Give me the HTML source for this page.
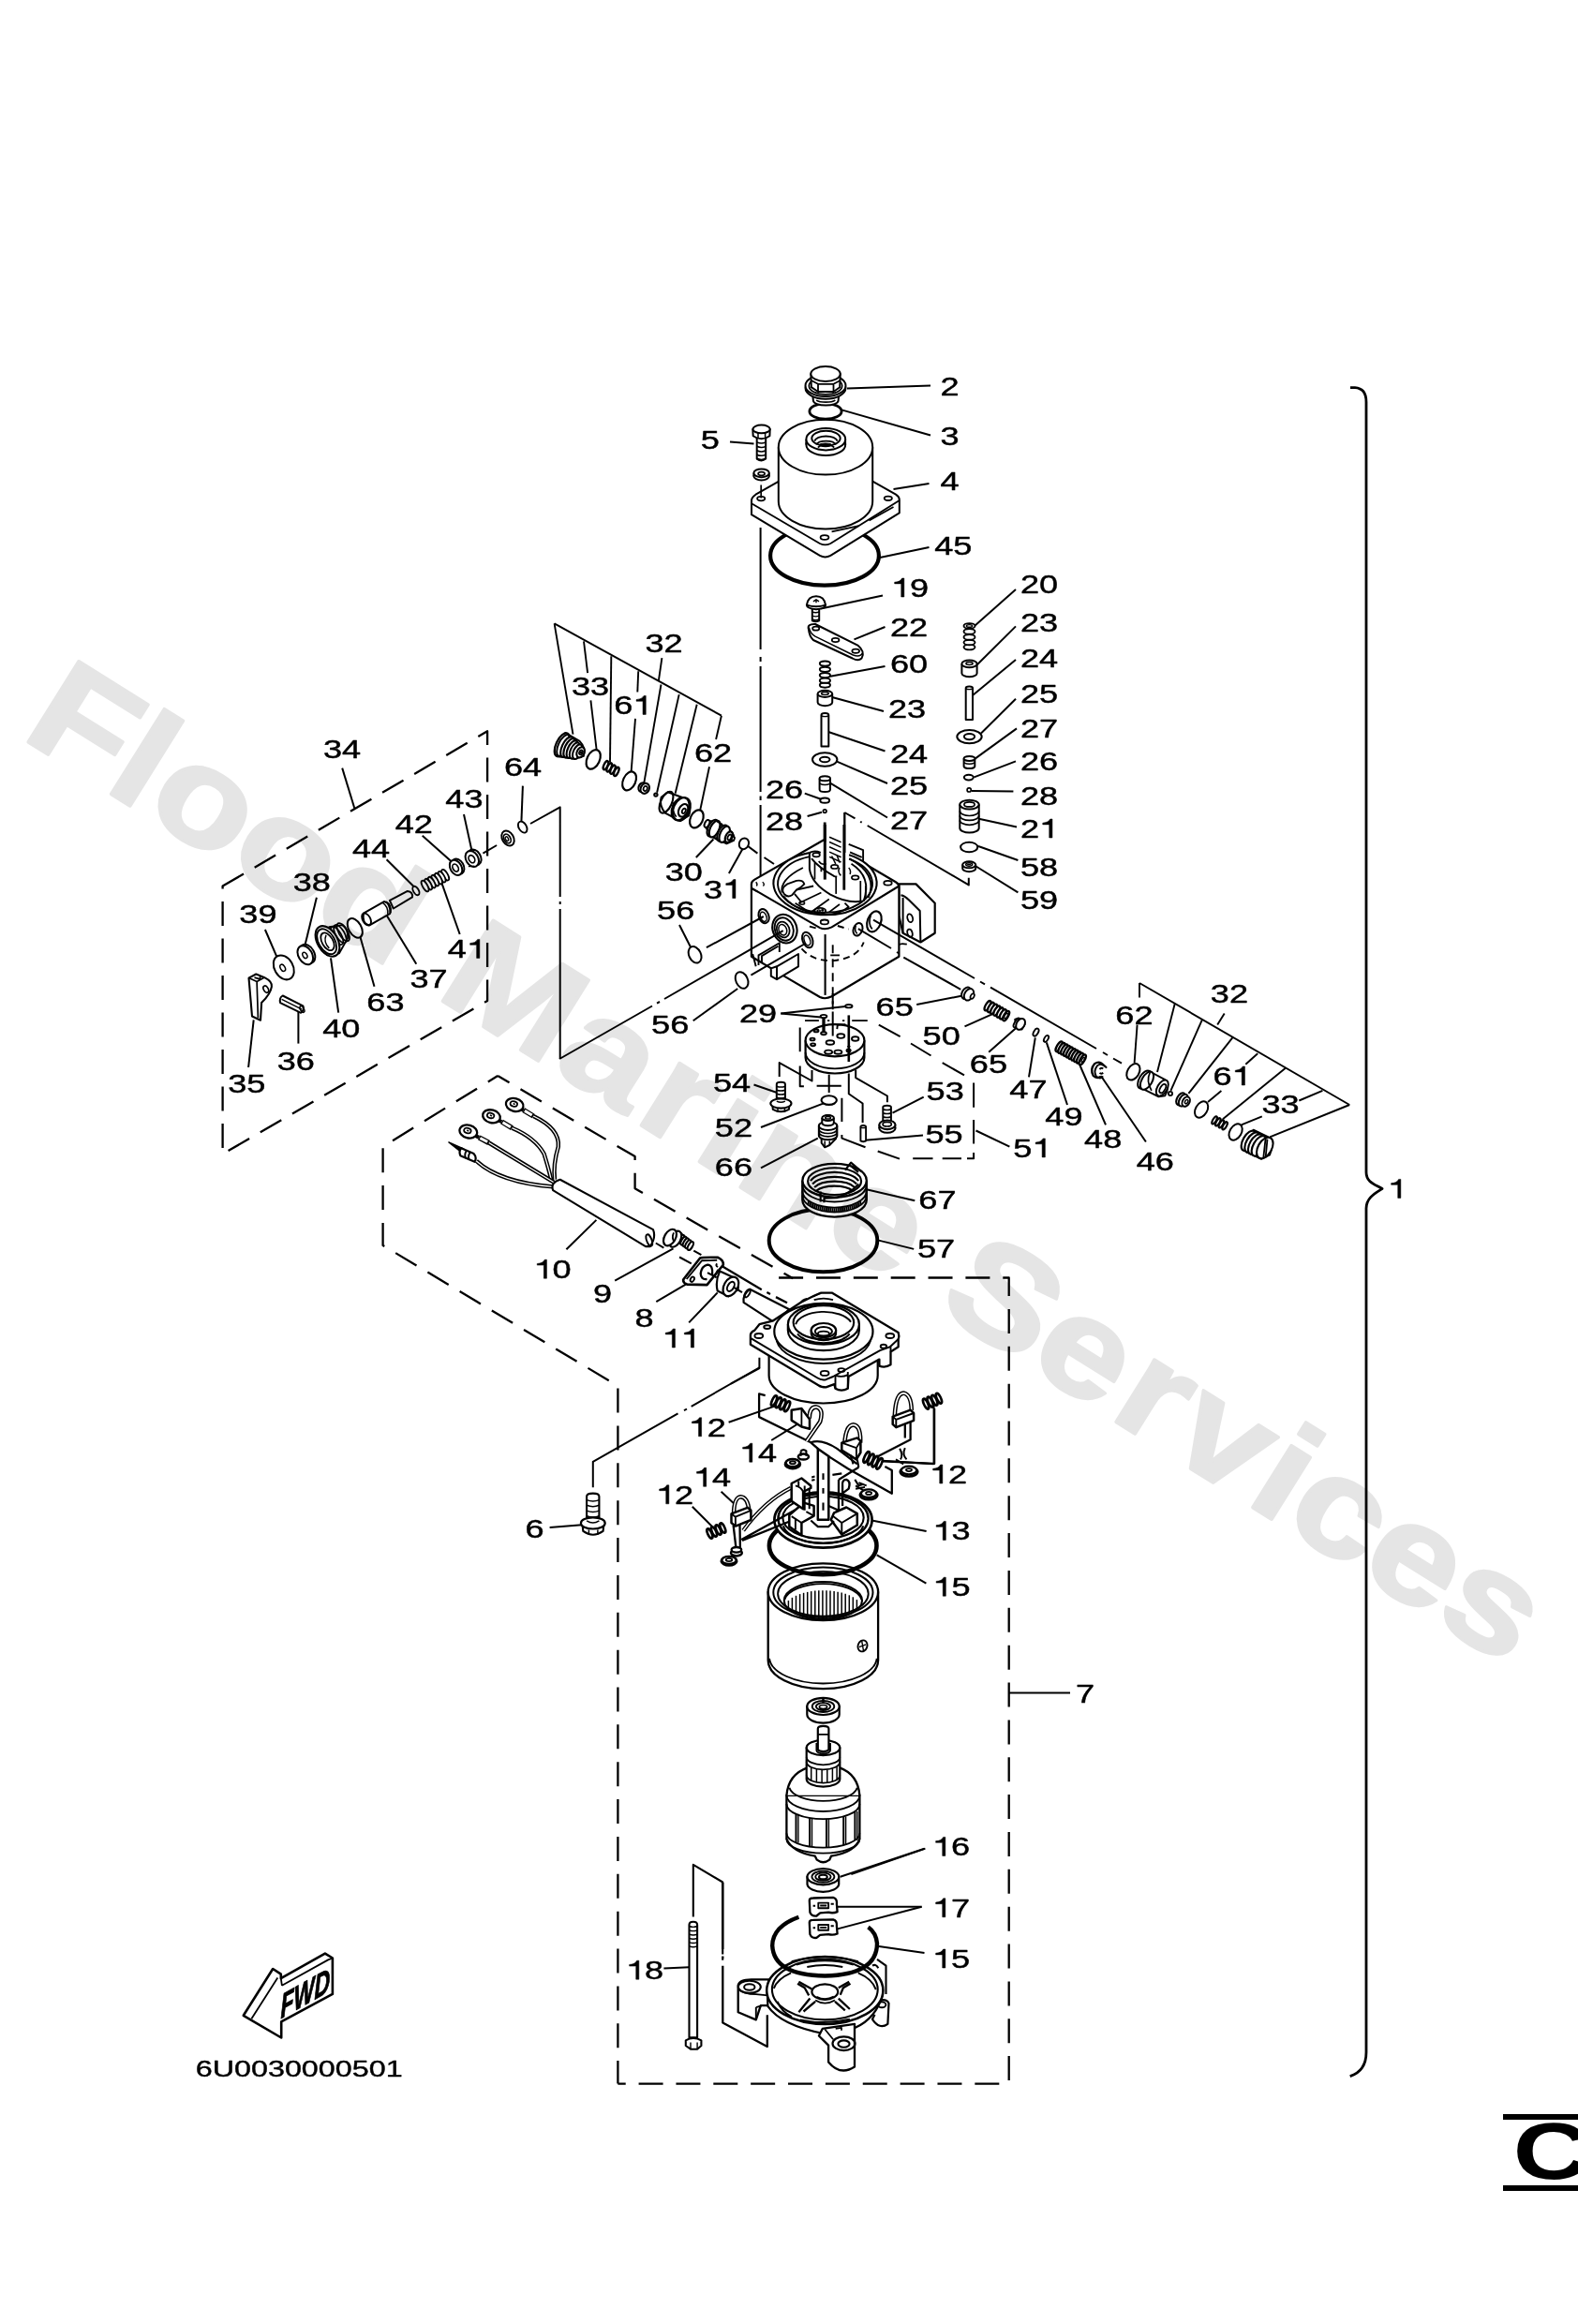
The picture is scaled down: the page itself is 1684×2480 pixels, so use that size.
<!DOCTYPE html><html><head><meta charset="utf-8"><title>Parts diagram</title><style>html,body{margin:0;padding:0;background:#fff}svg{display:block}text{font-family:"Liberation Sans",sans-serif;fill:#000}</style></head><body>
<svg width="1684" height="2480" viewBox="0 0 1684 2480" stroke-linecap="butt" stroke-linejoin="round">
<rect width="1684" height="2480" fill="#fff"/>
<path d="M831.1,1363.5 H1076.7 V2223.6 H659.4" fill="none" stroke="#000" stroke-width="2.3" stroke-dasharray="26 13.86"/>
<path d="M531.2,1148 L408.6,1223.7 V1329 L659.4,1479 V2223.6" fill="none" stroke="#000" stroke-width="2.3" stroke-dasharray="26 13.86" stroke-dashoffset="13.8"/>
<path d="M531.2,1148 L677.6,1234.1 V1268.3 L846.3,1364.2" fill="none" stroke="#000" stroke-width="2.3" stroke-dasharray="26 13.86" stroke-dashoffset="11.7"/>
<path d="M237.6,945.6 L520.1,780.3 V1068 L237.6,1231.5 Z" fill="none" stroke="#000" stroke-width="2.3" stroke-dasharray="26 13.5"/>
<path d="M937.8,1093.6 L960.6,1106.2 M972,1113.5 L993.5,1126.5 M1005.7,1134.2 L1029,1147.3 M1039.1,1155.5 V1181.8 M1039.1,1195 V1220.4 M1039.1,1230 V1236.2 H1032 M1026,1236.2 H1005.7 M995.5,1236.2 H974.2 M960,1236.6 L936.7,1228.5" fill="none" stroke="#000" stroke-width="2"/>
<path d="M1441,413.7 H1446 Q1458,414.5 1458,429 V1251 C1458,1262 1468,1264 1475,1268.5 C1468,1273 1458,1278 1458,1289.5 V2190 Q1458,2210 1440.7,2215.6" fill="none" stroke="#000" stroke-width="2.8"/>
<path d="M1076.7,1806.4 H1142" fill="none" stroke="#000" stroke-width="2"/>
<rect x="1604" y="2256" width="90" height="6" fill="#000"/><rect x="1604" y="2332" width="90" height="6" fill="#000"/>
<text x="0" y="0" font-size="86" font-weight="bold" transform="translate(1614.5,2324.5) scale(1.32,1)">C</text>
<text x="319.2" y="2215.8" font-size="24.2" style="stroke:#000;stroke-width:0.4" textLength="221" lengthAdjust="spacingAndGlyphs" text-anchor="middle">6U0030000501</text>
<path d="M 259.8,2150.8 L 291.2,2101 L 299.8,2106.7 L 299.8,2111.2 L 346.9,2084.6 L 354.9,2089.5 L 354.9,2127.9 L 300.2,2157.4 L 300.2,2174.5 Z" fill="white" stroke="#000" stroke-width="2.6"/>
<path d="M 268.4,2154.2 L 296.3,2110.5 M 299.8,2111.2 L 300.9,2118.8 M 300.9,2118.8 L 350.2,2091.4 L 354.9,2089.5 M 350.2,2091.4" fill="none" stroke="#000" stroke-width="1.8"/>
<text x="0" y="0" font-size="29" font-weight="bold" font-style="italic" style="stroke:#000;stroke-width:0.8" transform="matrix(0.80,-0.45,0,1.25,299.4,2154.2)" >FWD</text>
<path d="M904,414.5 L993,411.6" fill="none" stroke="#000" stroke-width="2"/>
<path d="M899,437.6 L993,464.5" fill="none" stroke="#000" stroke-width="2"/>
<path d="M779,471.5 L804.5,473.4" fill="none" stroke="#000" stroke-width="2"/>
<path d="M953.5,522 L991.5,516" fill="none" stroke="#000" stroke-width="2"/>
<path d="M939,595 L991.5,584" fill="none" stroke="#000" stroke-width="2"/>
<path d="M876,649.4 L942,635.5" fill="none" stroke="#000" stroke-width="2"/>
<path d="M911.5,682.4 L944.5,669" fill="none" stroke="#000" stroke-width="2"/>
<path d="M886,721.7 L944.5,711" fill="none" stroke="#000" stroke-width="2"/>
<path d="M888,744 L943,759" fill="none" stroke="#000" stroke-width="2"/>
<path d="M884,781 L944.5,801.5" fill="none" stroke="#000" stroke-width="2"/>
<path d="M892.5,812.4 L947,836" fill="none" stroke="#000" stroke-width="2"/>
<path d="M886,835.7 L947,872.5" fill="none" stroke="#000" stroke-width="2"/>
<path d="M858.8,846.6 L876,852.7" fill="none" stroke="#000" stroke-width="2"/>
<path d="M861.6,871 L877,866.7" fill="none" stroke="#000" stroke-width="2"/>
<path d="M1038,669.7 L1084,629" fill="none" stroke="#000" stroke-width="2"/>
<path d="M1042.6,709.5 L1084,668.4" fill="none" stroke="#000" stroke-width="2"/>
<path d="M1038,742 L1084,704" fill="none" stroke="#000" stroke-width="2"/>
<path d="M1047,782.5 L1084,745.8" fill="none" stroke="#000" stroke-width="2"/>
<path d="M1039.5,810.4 L1085,777.4" fill="none" stroke="#000" stroke-width="2"/>
<path d="M1039.5,829.4 L1084,812.4" fill="none" stroke="#000" stroke-width="2"/>
<path d="M1037,843.9 L1081.4,844.6" fill="none" stroke="#000" stroke-width="2"/>
<path d="M1044.6,873.8 L1085,882.6" fill="none" stroke="#000" stroke-width="2"/>
<path d="M1044,903 L1086.4,918" fill="none" stroke="#000" stroke-width="2"/>
<path d="M1040.8,924 L1086.4,952.3" fill="none" stroke="#000" stroke-width="2"/>
<path d="M761.4,895.5 L742.8,915" fill="none" stroke="#000" stroke-width="2"/>
<path d="M792.4,906 L777.9,931.9" fill="none" stroke="#000" stroke-width="2"/>
<path d="M365.2,819.6 L378.4,862.7" fill="none" stroke="#000" stroke-width="2"/>
<path d="M557.9,838.6 L556.4,877" fill="none" stroke="#000" stroke-width="2"/>
<path d="M495,869 L503.9,909.6" fill="none" stroke="#000" stroke-width="2"/>
<path d="M450.7,891.8 L483.6,921" fill="none" stroke="#000" stroke-width="2"/>
<path d="M412.6,917.2 L441.8,946.3" fill="none" stroke="#000" stroke-width="2"/>
<path d="M337.9,957.7 L325.2,1009.7" fill="none" stroke="#000" stroke-width="2"/>
<path d="M282.9,992 L296,1022.4" fill="none" stroke="#000" stroke-width="2"/>
<path d="M471,941.2 L490.7,997" fill="none" stroke="#000" stroke-width="2"/>
<path d="M410,972.4 L444.3,1028.7" fill="none" stroke="#000" stroke-width="2"/>
<path d="M382.2,992 L399.5,1052.8" fill="none" stroke="#000" stroke-width="2"/>
<path d="M353,1022.4 L361.2,1080.7" fill="none" stroke="#000" stroke-width="2"/>
<path d="M318.4,1076.9 L318.4,1113.6" fill="none" stroke="#000" stroke-width="2"/>
<path d="M270.7,1088.3 L265.1,1139" fill="none" stroke="#000" stroke-width="2"/>
<path d="M978.2,1072 L1026,1062.8" fill="none" stroke="#000" stroke-width="2"/>
<path d="M1029.5,1095.3 L1060.3,1081.6" fill="none" stroke="#000" stroke-width="2"/>
<path d="M1055.2,1122.7 L1084.3,1097" fill="none" stroke="#000" stroke-width="2"/>
<path d="M1098,1149.4 L1104.8,1107.3" fill="none" stroke="#000" stroke-width="2"/>
<path d="M1139,1179 L1116.8,1112.4" fill="none" stroke="#000" stroke-width="2"/>
<path d="M1180,1200.4 L1149.3,1129.5" fill="none" stroke="#000" stroke-width="2"/>
<path d="M1222.9,1218.5 L1175,1148.3" fill="none" stroke="#000" stroke-width="2"/>
<path d="M985.7,1170.6 L952.5,1187.7" fill="none" stroke="#000" stroke-width="2"/>
<path d="M985,1211.6 L923.4,1216.8" fill="none" stroke="#000" stroke-width="2"/>
<path d="M1041.5,1206.5 L1077.4,1223.6" fill="none" stroke="#000" stroke-width="2"/>
<path d="M833.3,1081.4 L902.2,1074" fill="none" stroke="#000" stroke-width="2"/>
<path d="M833.3,1081.4 L875.9,1085.5" fill="none" stroke="#000" stroke-width="2"/>
<path d="M804.5,1157.5 L829.2,1166" fill="none" stroke="#000" stroke-width="2"/>
<path d="M812,1203 L879,1177.4" fill="none" stroke="#000" stroke-width="2"/>
<path d="M812,1246.3 L872.8,1214.7" fill="none" stroke="#000" stroke-width="2"/>
<path d="M976.3,1281.2 L923.5,1269" fill="none" stroke="#000" stroke-width="2"/>
<path d="M975.2,1332.9 L936.7,1323.4" fill="none" stroke="#000" stroke-width="2"/>
<path d="M725,987 L737.8,1012.2" fill="none" stroke="#000" stroke-width="2"/>
<path d="M739.7,1089.2 L787.2,1055" fill="none" stroke="#000" stroke-width="2"/>
<path d="M636.4,1301.9 L604.4,1333.2" fill="none" stroke="#000" stroke-width="2"/>
<path d="M718.5,1332.3 L656.2,1366.7" fill="none" stroke="#000" stroke-width="2"/>
<path d="M732.2,1370.3 L700.3,1389.2" fill="none" stroke="#000" stroke-width="2"/>
<path d="M765.7,1379.4 L735.2,1411.4" fill="none" stroke="#000" stroke-width="2"/>
<path d="M777.6,1517.7 L826.6,1500.6" fill="none" stroke="#000" stroke-width="2"/>
<path d="M823.2,1537 L850.6,1520" fill="none" stroke="#000" stroke-width="2"/>
<path d="M769.6,1591.8 L783.3,1604.4" fill="none" stroke="#000" stroke-width="2"/>
<path d="M738.8,1607.8 L760.5,1629.5" fill="none" stroke="#000" stroke-width="2"/>
<path d="M941.8,1558.8 L996.6,1562.2" fill="none" stroke="#000" stroke-width="2"/>
<path d="M996.6,1498.3 L996.6,1562.2" fill="none" stroke="#000" stroke-width="2"/>
<path d="M930.4,1622.6 L988.6,1634" fill="none" stroke="#000" stroke-width="2"/>
<path d="M935.7,1659.3 L988.4,1689.7" fill="none" stroke="#000" stroke-width="2"/>
<path d="M908.3,2000 L987.4,1972.6" fill="none" stroke="#000" stroke-width="2"/>
<path d="M586.6,1630 L620.8,1627.3" fill="none" stroke="#000" stroke-width="2"/>
<ellipse cx="880" cy="592.9" rx="57.9" ry="31.7" fill="none" stroke="#000" stroke-width="4.2"/>
<path d="M 802,534 Q 802,530.8 806.5,527.7 L 881,485.2 L 956,527.7 Q 959.8,530.2 959.8,533.4 L 959.8,547.3 L 886.3,592.9 Q 880.6,596.1 874.9,592.9 L 802,549.2 Z" fill="white" stroke="#000" stroke-width="2"/>
<path d="M 802,537.2 L 874.9,580 Q 880.6,582.8 886.3,580 L 959.8,534" fill="none" stroke="#000" stroke-width="1.9"/>
<ellipse cx="812.2" cy="532.1" rx="4.1" ry="2.2" fill="none" stroke="#000" stroke-width="1.8"/>
<ellipse cx="947.8" cy="531.8" rx="4.1" ry="2.2" fill="none" stroke="#000" stroke-width="1.8"/>
<ellipse cx="880" cy="573.5" rx="4.4" ry="2.4" fill="none" stroke="#000" stroke-width="1.8"/>
<path d="M 927.5,555.5 L 953.5,541 M 887.6,567.3 L 916.7,561.2" fill="none" stroke="#000" stroke-width="1.8"/>
<path d="M 830.8,477.2 L 830.8,535 A 50.2,29.4 0 0 0 931.2,535 L 931.2,477.2 Z" fill="white" stroke="none" stroke-width="1.7"/>
<path d="M 830.8,477.2 L 830.8,535 A 50.2,29.4 0 0 0 931.2,535 L 931.2,477.2" fill="none" stroke="#000" stroke-width="2"/>
<ellipse cx="881" cy="477.2" rx="50.2" ry="29.4" fill="white" stroke="#000" stroke-width="2"/>
<ellipse cx="881.3" cy="474.4" rx="20.9" ry="11.7" fill="white" stroke="#000" stroke-width="2"/>
<path d="M 860.3,468.7 L 860.3,474.4 M 902.2,468.7 L 902.2,474.4" fill="none" stroke="#000" stroke-width="1.8"/>
<ellipse cx="881.3" cy="468.7" rx="20.9" ry="11.7" fill="white" stroke="#000" stroke-width="2"/>
<ellipse cx="881.5" cy="467.7" rx="15.2" ry="7.9" fill="none" stroke="#000" stroke-width="2"/>
<path d="M 869.2,470.6 A 12.4,6.1 0 0 1 893.7,470.6 M 871.1,474.4 A 10.8,5.1 0 0 1 892,474.4 M 873,477.6 A 8.9,3.8 0 0 1 890.1,477.6" fill="none" stroke="#000" stroke-width="1.9"/>
<ellipse cx="881" cy="474.8" rx="6.1" ry="1.8" fill="#000" stroke="#000" stroke-width="1.2"/>
<ellipse cx="881" cy="438.9" rx="17.1" ry="8.2" fill="none" stroke="#000" stroke-width="2.8"/>
<path d="M 867.3,421.8 L 867.9,427.5 A 13.3,5.1 0 0 0 894.6,427.5 L 895.2,421.8 Z" fill="white" stroke="#000" stroke-width="2"/>
<path d="M 871.1,427.1 A 11.4,3.8 0 0 0 891.4,427.1" fill="none" stroke="#000" stroke-width="1.7"/>
<ellipse cx="881" cy="414" rx="21.5" ry="11.7" fill="white" stroke="#000" stroke-width="2"/>
<ellipse cx="881" cy="411.4" rx="21.5" ry="11.7" fill="white" stroke="#000" stroke-width="2"/>
<ellipse cx="881" cy="411.7" rx="17.7" ry="9.1" fill="none" stroke="#000" stroke-width="1.7"/>
<path d="M 865.4,399 L 865.8,413.2 L 873,418 L 889.5,418 L 896.2,413.2 L 896.7,399 Z" fill="white" stroke="#000" stroke-width="2"/>
<path d="M 873,409.8 L 873,418 M 889.5,409.8 L 889.5,418 M 865.8,406 L 873,409.8 L 889.5,409.8 L 896.7,406" fill="none" stroke="#000" stroke-width="1.8"/>
<ellipse cx="881" cy="399" rx="15.7" ry="7.9" fill="white" stroke="#000" stroke-width="2"/>
<path d="M 807.7,466.2 L 807.7,489.6 Q 812.6,493.4 817.2,489.6 L 817.2,466.2 Z" fill="white" stroke="#000" stroke-width="2"/>
<path d="M 807.7,471.9 Q 812.6,474.2 817.2,471.9" fill="none" stroke="#000" stroke-width="1.5"/>
<path d="M 807.7,476.3 Q 812.6,478.6 817.2,476.3" fill="none" stroke="#000" stroke-width="1.5"/>
<path d="M 807.7,480.8 Q 812.6,483 817.2,480.8" fill="none" stroke="#000" stroke-width="1.5"/>
<path d="M 807.7,485.2 Q 812.6,487.5 817.2,485.2" fill="none" stroke="#000" stroke-width="1.5"/>
<path d="M 807.7,489.3 Q 812.6,491.5 817.2,489.3" fill="none" stroke="#000" stroke-width="1.5"/>
<path d="M 803.3,457.9 L 803.7,465.2 Q 812.6,471.3 821.4,465.2 L 821.7,457.9 Z" fill="white" stroke="#000" stroke-width="2"/>
<path d="M 809,461.5 L 809,468.1 M 816.6,461.5 L 816.6,468.1" fill="none" stroke="#000" stroke-width="1.5"/>
<ellipse cx="812.6" cy="457.9" rx="9.1" ry="4.4" fill="white" stroke="#000" stroke-width="2"/>
<ellipse cx="812.6" cy="508" rx="8.2" ry="4.4" fill="white" stroke="#000" stroke-width="2"/>
<path d="M 804.3,504.8 L 804.3,508 M 820.8,504.8 L 820.8,508" fill="none" stroke="#000" stroke-width="1.7"/>
<ellipse cx="812.6" cy="504.8" rx="8.2" ry="4.4" fill="white" stroke="#000" stroke-width="2"/>
<ellipse cx="812.6" cy="505.5" rx="3.5" ry="1.8" fill="none" stroke="#000" stroke-width="1.7"/>
<path d="M812.2,517.5 L812.2,531.5" fill="none" stroke="#000" stroke-width="1.7"/>
<path d="M811.6,563 V693 M811.6,701 V706 M811.6,711 V845 M811.6,849.5 V854 M811.6,859 V965" fill="none" stroke="#000" stroke-width="2"/>
<path d="M 866.8,648.8 L 866.8,662.3 Q 870.4,664.2 874.2,662.3 L 874.2,648.8 Z" fill="white" stroke="#000" stroke-width="2"/>
<path d="M 866.8,653 Q 870.4,654.4 874.2,653" fill="none" stroke="#000" stroke-width="1.4"/>
<path d="M 866.8,657.2 Q 870.4,658.6 874.2,657.2" fill="none" stroke="#000" stroke-width="1.4"/>
<path d="M 866.8,661 Q 870.4,662.3 874.2,661" fill="none" stroke="#000" stroke-width="1.4"/>
<path d="M 860.9,645.6 Q 860.9,649.5 871,650.2 Q 881,649.5 881,645.6 Z" fill="white" stroke="#000" stroke-width="2"/>
<path d="M 860.9,645.6 Q 862.3,636.3 871,636.3 Q 879.6,636.3 881,645.6 Q 871,648.8 860.9,645.6 Z" fill="white" stroke="#000" stroke-width="2"/>
<path d="M 867.9,641.9 L 871,639.8 L 874,641.9 M 871,639.8 L 871,643.2" fill="none" stroke="#000" stroke-width="1.4"/>
<path d="M 863,671.8 Q 860.9,665.6 870,666 L 915.3,688.6 Q 923.7,695.5 919.5,702.5 Q 916,706 909.7,702.5 L 867.9,683 Q 863.7,678.8 863,671.8 Z" fill="white" stroke="#000" stroke-width="2"/>
<path d="M 863.4,669.7 Q 864.4,676 870,679.1 L 910.4,699 Q 918.1,701.8 920.6,696.6" fill="none" stroke="#000" stroke-width="1.5"/>
<ellipse cx="870.7" cy="670.7" rx="3.6" ry="2" fill="none" stroke="#000" stroke-width="1.7"/>
<ellipse cx="891.6" cy="683" rx="3.9" ry="2.1" fill="none" stroke="#000" stroke-width="1.7"/>
<ellipse cx="913.2" cy="694.8" rx="3.9" ry="2.1" fill="none" stroke="#000" stroke-width="1.7"/>
<ellipse cx="880.4" cy="731.1" rx="5.6" ry="2.6" fill="white" stroke="#000" stroke-width="1.9"/>
<ellipse cx="880.4" cy="726.2" rx="5.6" ry="2.6" fill="white" stroke="#000" stroke-width="1.9"/>
<ellipse cx="880.4" cy="720.6" rx="5.6" ry="2.6" fill="white" stroke="#000" stroke-width="1.9"/>
<ellipse cx="880.4" cy="714.3" rx="5.6" ry="2.6" fill="white" stroke="#000" stroke-width="1.9"/>
<ellipse cx="880.4" cy="708.1" rx="5.6" ry="2.6" fill="white" stroke="#000" stroke-width="1.9"/>
<path d="M 872.6,740.4 L 872.6,749.6 A 7.8,3.6 0 0 0 888.2,749.6 L 888.2,740.4 Z" fill="white" stroke="none" stroke-width="1.7"/>
<path d="M 872.6,740.4 L 872.6,749.6 A 7.8,3.6 0 0 0 888.2,749.6 L 888.2,740.4" fill="none" stroke="#000" stroke-width="2"/>
<ellipse cx="880.4" cy="740.4" rx="7.8" ry="3.6" fill="white" stroke="#000" stroke-width="2"/>
<ellipse cx="880.4" cy="740.1" rx="3.8" ry="1.5" fill="none" stroke="#000" stroke-width="1.5"/>
<path d="M 876.5,763.1 Q 876.5,761.1 880.4,761.1 Q 884.3,761.1 884.3,763.1 L 884.3,796.6 L 876.5,796.6 Z" fill="white" stroke="#000" stroke-width="2"/>
<path d="M 876.5,763.8 Q 880.4,765.5 884.3,763.8" fill="none" stroke="#000" stroke-width="1.4"/>
<ellipse cx="880.2" cy="810.5" rx="13.2" ry="7.2" fill="white" stroke="#000" stroke-width="2"/>
<ellipse cx="880.2" cy="810.5" rx="5.3" ry="2.8" fill="none" stroke="#000" stroke-width="2"/>
<path d="M 874.6,830.8 L 874.6,842.6 A 5.7,2.5 0 0 0 886,842.6 L 886,830.8 Z" fill="white" stroke="none" stroke-width="1.7"/>
<path d="M 874.6,830.8 L 874.6,842.6 A 5.7,2.5 0 0 0 886,842.6 L 886,830.8" fill="none" stroke="#000" stroke-width="2"/>
<ellipse cx="880.3" cy="830.8" rx="5.7" ry="2.5" fill="white" stroke="#000" stroke-width="2"/>
<path d="M 874.6,836.1 Q 880.3,839.1 886,836.1" fill="none" stroke="#000" stroke-width="1.5"/>
<ellipse cx="880.2" cy="854.2" rx="4.9" ry="2.6" fill="white" stroke="#000" stroke-width="2"/>
<ellipse cx="880.2" cy="865.6" rx="1.8" ry="1.8" fill="white" stroke="#000" stroke-width="1.7"/>
<path d="M880.2,877.5 L880.2,938.1" fill="none" stroke="#000" stroke-width="2.8"/>
<path d="M901.3,867 L901.3,950" fill="none" stroke="#000" stroke-width="2.3"/>
<path d="M 901.3,867 L 912.5,873.3 M 918.1,876.8 L 919.7,877.7 M 925.7,881 L 1033.8,944.4 L 1033.8,936.7" fill="none" stroke="#000" stroke-width="2"/>
<ellipse cx="1034.5" cy="690.6" rx="6" ry="2.8" fill="white" stroke="#000" stroke-width="1.9"/>
<ellipse cx="1034.5" cy="685.5" rx="6" ry="2.8" fill="white" stroke="#000" stroke-width="1.9"/>
<ellipse cx="1034.5" cy="679.9" rx="6" ry="2.8" fill="white" stroke="#000" stroke-width="1.9"/>
<ellipse cx="1034.5" cy="673.9" rx="6" ry="2.8" fill="white" stroke="#000" stroke-width="1.9"/>
<ellipse cx="1034.5" cy="667.9" rx="6" ry="2.8" fill="white" stroke="#000" stroke-width="1.9"/>
<ellipse cx="1034.5" cy="667.9" rx="3.1" ry="1.3" fill="none" stroke="#000" stroke-width="1.4"/>
<path d="M 1026.4,708.4 L 1026.4,718.5 A 8.1,3.8 0 0 0 1042.6,718.5 L 1042.6,708.4 Z" fill="white" stroke="none" stroke-width="1.7"/>
<path d="M 1026.4,708.4 L 1026.4,718.5 A 8.1,3.8 0 0 0 1042.6,718.5 L 1042.6,708.4" fill="none" stroke="#000" stroke-width="2"/>
<ellipse cx="1034.5" cy="708.4" rx="8.1" ry="3.8" fill="white" stroke="#000" stroke-width="2"/>
<ellipse cx="1034.5" cy="708.1" rx="3.6" ry="1.5" fill="none" stroke="#000" stroke-width="1.5"/>
<path d="M 1030.7,734.3 Q 1030.7,732.5 1034.3,732.5 Q 1038,732.5 1038,734.3 L 1038,768 L 1030.7,768 Z" fill="white" stroke="#000" stroke-width="2"/>
<path d="M 1030.7,734.8 Q 1034.3,736.5 1038,734.8" fill="none" stroke="#000" stroke-width="1.4"/>
<ellipse cx="1034.5" cy="786.1" rx="13.2" ry="7.2" fill="white" stroke="#000" stroke-width="2"/>
<ellipse cx="1034.5" cy="786.1" rx="5.6" ry="3.1" fill="none" stroke="#000" stroke-width="2"/>
<path d="M 1028.6,809.4 L 1028.6,817.9 A 5.9,2.5 0 0 0 1040.3,817.9 L 1040.3,809.4 Z" fill="white" stroke="none" stroke-width="1.7"/>
<path d="M 1028.6,809.4 L 1028.6,817.9 A 5.9,2.5 0 0 0 1040.3,817.9 L 1040.3,809.4" fill="none" stroke="#000" stroke-width="2"/>
<ellipse cx="1034.5" cy="809.4" rx="5.9" ry="2.5" fill="white" stroke="#000" stroke-width="2"/>
<path d="M 1028.6,813.8 Q 1034.5,816.8 1040.3,813.8" fill="none" stroke="#000" stroke-width="1.5"/>
<ellipse cx="1033.8" cy="829.6" rx="5" ry="2.8" fill="white" stroke="#000" stroke-width="2"/>
<ellipse cx="1034.2" cy="842.9" rx="2.1" ry="2.1" fill="white" stroke="#000" stroke-width="1.7"/>
<path d="M 1024.3,858.6 L 1024.3,883.7 A 10.2,4.9 0 0 0 1044.7,883.7 L 1044.7,858.6 Z" fill="white" stroke="none" stroke-width="1.7"/>
<path d="M 1024.3,858.6 L 1024.3,883.7 A 10.2,4.9 0 0 0 1044.7,883.7 L 1044.7,858.6" fill="none" stroke="#000" stroke-width="2"/>
<ellipse cx="1034.5" cy="858.6" rx="10.2" ry="4.9" fill="white" stroke="#000" stroke-width="2"/>
<path d="M 1024.3,865.6 A 10.2,4.9 0 0 0 1044.7,865.6" fill="none" stroke="#000" stroke-width="1.7"/>
<path d="M 1024.3,870.5 A 10.2,4.9 0 0 0 1044.7,870.5" fill="none" stroke="#000" stroke-width="1.7"/>
<path d="M 1024.3,875.4 A 10.2,4.9 0 0 0 1044.7,875.4" fill="none" stroke="#000" stroke-width="1.7"/>
<ellipse cx="1034.5" cy="858.4" rx="5.6" ry="2.5" fill="none" stroke="#000" stroke-width="1.7"/>
<ellipse cx="1034.2" cy="904" rx="9.1" ry="5.3" fill="white" stroke="#000" stroke-width="2"/>
<path d="M 1027.2,922.8 L 1027.2,926.7 A 7,3.5 0 0 0 1041.2,926.7 L 1041.2,922.8 Z" fill="white" stroke="none" stroke-width="1.7"/>
<path d="M 1027.2,922.8 L 1027.2,926.7 A 7,3.5 0 0 0 1041.2,926.7 L 1041.2,922.8" fill="none" stroke="#000" stroke-width="2"/>
<ellipse cx="1034.2" cy="922.8" rx="7" ry="3.5" fill="white" stroke="#000" stroke-width="2"/>
<ellipse cx="1034.2" cy="922.5" rx="3.5" ry="1.7" fill="none" stroke="#000" stroke-width="1.5"/>
<path d="M 1032.1,922.5 L 1036.3,922.5" fill="none" stroke="#000" stroke-width="1.4"/>
<path d="M 959.4,943.4 L 977.5,943.4 L 997.7,963.7 L 997.7,995.7 L 982.4,1005.5 L 963.6,995.7 L 959.4,977.6 Z" fill="white" stroke="#000" stroke-width="2.2"/>
<path d="M 961.5,955.3 Q 965.7,956 969.8,960.2 L 981.7,972 L 982.4,1005.5 M 963.6,958.1 L 963.6,995.7" fill="none" stroke="#000" stroke-width="2"/>
<ellipse cx="971.2" cy="979.7" rx="2.8" ry="4.5" transform="rotate(-15 971.2 979.7)" fill="none" stroke="#000" stroke-width="1.8"/>
<ellipse cx="971" cy="995.7" rx="2.6" ry="4.2" transform="rotate(-15 971 995.7)" fill="none" stroke="#000" stroke-width="1.8"/>
<path d="M 801.9,943.4 Q 801.9,940.6 805.3,938.6 L 873.7,899.5 Q 879.2,896.5 884.8,899.5 L 955.9,941.3 Q 959.4,943.4 959.4,946.2 L 959.4,1020.8 L 887.6,1063.3 Q 880.6,1066.8 875,1064 L 838.1,1042.4 L 801.9,1020.8 Z" fill="white" stroke="none" stroke-width="1.7"/>
<path d="M 838.1,1042.4 L 801.9,1020.8 L 801.9,943.4 Q 801.9,940.6 805.3,938.6 L 879.2,896.3 M 921.1,920.7 L 955.9,941.3 Q 959.4,943.4 959.4,946.2 L 959.4,1020.8 L 887.6,1063.3 Q 880.6,1066.8 875,1064 L 838.1,1042.4" fill="none" stroke="#000" stroke-width="2.2"/>
<path d="M 801.9,947.6 L 875,990.1 Q 880.6,992.6 887.6,989.4 L 959.4,945.5" fill="none" stroke="#000" stroke-width="2.1"/>
<path d="M 801.9,948.3 L 808.8,951.8" fill="none" stroke="#000" stroke-width="1.8"/>
<path d="M880.6,997.1 L880.6,1061.9" fill="none" stroke="#000" stroke-width="2.1"/>
<path d="M 905.7,900.9 L 921.1,907.2 L 921.1,920.4 M 907.1,909.3 L 919.7,914.9" fill="none" stroke="#000" stroke-width="1.9"/>
<ellipse cx="880.6" cy="942.3" rx="55.1" ry="33.9" fill="white" stroke="none" stroke-width="1.7"/>
<path d="M 906.1,912.3 A 55.1,33.9 0 1 1 863.9,910" fill="none" stroke="#000" stroke-width="2.1"/>
<path d="M 906.1,916.6 A 50.5,30.7 0 1 1 863.9,914.1" fill="none" stroke="#000" stroke-width="1.9"/>
<path d="M 834.6,952.5 Q 831.8,938.6 856.9,926 M 836,956 Q 845.8,969.2 868.1,974.8" fill="none" stroke="#000" stroke-width="1.9"/>
<path d="M 863.9,910 L 863.9,927.4 Q 866,942.7 886.2,954.6 Q 904.3,964.3 919.7,961.6 M 863.9,910 Q 869.5,907.2 875.7,910 M 866,916.2 Q 873.7,926 890.4,935.1 L 893.2,935.8" fill="none" stroke="#000" stroke-width="2"/>
<path d="M 869.5,920.4 L 869.5,938.6 M 876.4,926 L 876.4,930.2" fill="none" stroke="#000" stroke-width="1.7"/>
<path d="M 908.5,921.8 Q 930.8,935.8 921.7,961.6 M 906.4,916.2 Q 937.8,933 926.6,958.1" fill="none" stroke="#000" stroke-width="1.9"/>
<path d="M 918.3,939.9 L 918.3,961.6 M 923.8,945.5 L 923.8,958.1" fill="none" stroke="#000" stroke-width="1.7"/>
<path d="M 836.7,953.9 Q 832.5,948.3 840.2,943.4 L 849.9,939.9 Q 856.9,938.6 858.3,943.4 Q 855.5,946.9 849.9,949.7 L 845.1,955.3 Q 840.2,958.1 836.7,953.9 Z" fill="none" stroke="#000" stroke-width="1.9"/>
<path d="M 847.9,953.9 L 855.5,963 M 849.9,949.7 L 868.1,945.5 M 876.4,952.5 L 852.7,963.7 M 884.8,959.5 L 865.3,973.4 M 896,965 L 884.8,973.4 M 848.6,963.7 L 863.9,973.4 L 879.2,976.2 Q 896,976.2 905.7,967.8 L 901.5,963.7" fill="none" stroke="#000" stroke-width="1.8"/>
<ellipse cx="871.1" cy="912.3" rx="3.8" ry="2.1" fill="none" stroke="#000" stroke-width="1.7"/>
<ellipse cx="890.7" cy="924.9" rx="3.8" ry="2.1" fill="none" stroke="#000" stroke-width="1.7"/>
<ellipse cx="912.7" cy="936.5" rx="3.8" ry="2.1" fill="none" stroke="#000" stroke-width="1.7"/>
<ellipse cx="855.8" cy="963.7" rx="2.8" ry="1.5" fill="none" stroke="#000" stroke-width="1.5"/>
<ellipse cx="875.3" cy="972" rx="5.9" ry="3.1" fill="none" stroke="#000" stroke-width="1.8"/>
<ellipse cx="873.7" cy="972" rx="1.7" ry="1.1" fill="none" stroke="#000" stroke-width="1.4"/>
<ellipse cx="877.8" cy="971.3" rx="1.1" ry="0.7" fill="none" stroke="#000" stroke-width="1.3"/>
<path d="M 873.7,919 Q 876.4,923.2 882,921.8 M 896,926 Q 893.2,930.2 897.4,934.4 M 905.7,926 Q 908.5,928.8 907.1,933" fill="none" stroke="#000" stroke-width="1.5"/>
<path d="M885.1,893.2 L897.6,898.8" fill="none" stroke="#000" stroke-width="1.5"/>
<path d="M885.1,898.5 L897.6,904.1" fill="none" stroke="#000" stroke-width="1.5"/>
<path d="M885.1,903.8 L897.6,909.4" fill="none" stroke="#000" stroke-width="1.5"/>
<path d="M885.1,909.1 L897.6,914.7" fill="none" stroke="#000" stroke-width="1.5"/>
<path d="M885.1,914.4 L897.6,920" fill="none" stroke="#000" stroke-width="1.5"/>
<path d="M 887.6,913.5 L 891.8,921.8 M 893.2,912.8 L 896,920.4" fill="none" stroke="#000" stroke-width="1.5"/>
<path d="M892.2,935.8 L892.2,953.9" fill="none" stroke="#000" stroke-width="1.7"/>
<path d="M880.3,880 L880.3,938.6" fill="none" stroke="#000" stroke-width="3"/>
<path d="M900.8,880 L900.8,949.7" fill="none" stroke="#000" stroke-width="2.8"/>
<ellipse cx="879.9" cy="983.9" rx="4.2" ry="2.4" fill="none" stroke="#000" stroke-width="1.8"/>
<ellipse cx="947.5" cy="942.3" rx="4.2" ry="2.4" fill="none" stroke="#000" stroke-width="1.8"/>
<path d="M 806.7,941.3 Q 808.8,943.4 807.4,945.5 M 813.7,941.3 Q 816.5,943.4 814.4,945.5" fill="none" stroke="#000" stroke-width="1.4"/>
<path d="M 855.5,1012.4 Q 868.1,1026.4 890.4,1025 Q 915.5,1022.2 921.7,1005.5" fill="none" stroke="#000" stroke-width="1.9" stroke-dasharray="7 5"/>
<path d="M 863.9,988.7 L 875,991.5 M 893.9,988 L 905.7,991.5" fill="none" stroke="#000" stroke-width="1.9" stroke-dasharray="7 5"/>
<path d="M888.7,1008.3 L888.7,1080.1" fill="none" stroke="#000" stroke-width="1.9" stroke-dasharray="9 6"/>
<path d="M 886.2,1019.4 L 896,1019.4" fill="none" stroke="#000" stroke-width="1.8"/>
<ellipse cx="815.1" cy="977.6" rx="5.3" ry="7.8" transform="rotate(-20 815.1 977.6)" fill="white" stroke="#000" stroke-width="2"/>
<ellipse cx="814.8" cy="978.3" rx="3.1" ry="5.3" transform="rotate(-20 814.8 978.3)" fill="none" stroke="#000" stroke-width="1.5"/>
<ellipse cx="837.4" cy="991.1" rx="12.8" ry="15.6" transform="rotate(-20 837.4 991.1)" fill="white" stroke="#000" stroke-width="2.1"/>
<ellipse cx="836.7" cy="991.5" rx="9.8" ry="12.5" transform="rotate(-20 836.7 991.5)" fill="none" stroke="#000" stroke-width="1.9"/>
<ellipse cx="835.7" cy="992" rx="6.7" ry="8.6" transform="rotate(-20 835.7 992)" fill="none" stroke="#000" stroke-width="1.8"/>
<ellipse cx="835.3" cy="992.2" rx="4.2" ry="5.9" transform="rotate(-20 835.3 992.2)" fill="none" stroke="#000" stroke-width="1.5"/>
<ellipse cx="861.8" cy="1003" rx="5.3" ry="8.6" transform="rotate(-20 861.8 1003)" fill="white" stroke="#000" stroke-width="2"/>
<ellipse cx="861.4" cy="1003.4" rx="3.1" ry="5.6" transform="rotate(-20 861.4 1003.4)" fill="none" stroke="#000" stroke-width="1.5"/>
<path d="M 803.2,1018 L 806.7,1031.3 M 809.5,1029.9 L 809.5,1019.4 L 831.8,1006.2 L 831.8,1015.9 M 813,1027.8 L 813,1020.1 L 830.4,1009.7" fill="none" stroke="#000" stroke-width="1.9"/>
<path d="M 822.8,1033.4 L 829,1031.3 L 852,1018 L 852,1031.3 L 829,1045.2 L 822.8,1041.7 Z M 829,1031.3 L 829,1045.2" fill="white" stroke="#000" stroke-width="2"/>
<ellipse cx="932.9" cy="983.4" rx="7.2" ry="11.4" transform="rotate(20 932.9 983.4)" fill="white" stroke="#000" stroke-width="2.1"/>
<path d="M 929.4,976.2 Q 925.9,986 930.8,991.5" fill="none" stroke="#000" stroke-width="1.7"/>
<ellipse cx="915.5" cy="991.8" rx="4.7" ry="7" transform="rotate(20 915.5 991.8)" fill="white" stroke="#000" stroke-width="2"/>
<path d="M 913.4,988 Q 911.3,992.9 914.8,996.4" fill="none" stroke="#000" stroke-width="1.5"/>
<path d="M 959.4,1008.3 Q 960.8,1006.2 967.8,1007.6" fill="none" stroke="#000" stroke-width="1.8"/>
<path d="M814.8,978 L753.9,1011.2" fill="none" stroke="#000" stroke-width="2"/>
<path d="M835.7,993.2 L709,1066 M704,1069 L701,1070.6 M696,1073.5 L597.1,1130" fill="none" stroke="#000" stroke-width="2"/>
<path d="M860,1006.5 L801.4,1040.7" fill="none" stroke="#000" stroke-width="2"/>
<path d="M932,981.7 L1040,1044 M1046,1047.5 L1051,1050.3 M1057,1053.7 L1170,1119 M1177,1123 L1182,1126 M1188,1129.5 L1197,1134.6" fill="none" stroke="#000" stroke-width="2"/>
<path d="M915.9,991.2 L951,1012 M957,1016 L959,1017.2 M964.3,1021.6 L1025.2,1055.8" fill="none" stroke="#000" stroke-width="2"/>
<path d="M794.2,900 L808.4,910.6 M815.5,915 L826,922" fill="none" stroke="#000" stroke-width="2"/>
<path d="M566,879 L597.7,861.4 V957 M597.7,962 V965 M597.7,970 V1130" fill="none" stroke="#000" stroke-width="2"/>
<ellipse cx="741.6" cy="1018.8" rx="6.3" ry="9.2" transform="rotate(-25 741.6 1018.8)" fill="white" stroke="#000" stroke-width="2"/>
<ellipse cx="791.6" cy="1046" rx="6.3" ry="9.2" transform="rotate(-25 791.6 1046)" fill="white" stroke="#000" stroke-width="2"/>
<path d="M 591.6,665.4 L 769.9,763.7" fill="none" stroke="#000" stroke-width="1.9"/>
<path d="M591.6,665.4 L611.5,783.7" fill="none" stroke="#000" stroke-width="1.9"/>
<path d="M623,684.4 L627.1,718.1" fill="none" stroke="#000" stroke-width="1.9"/>
<path d="M630.4,747.4 L636.7,800.6" fill="none" stroke="#000" stroke-width="1.9"/>
<path d="M652.3,700.3 L651,813" fill="none" stroke="#000" stroke-width="1.9"/>
<path d="M681.2,716.3 L680.3,738.5" fill="none" stroke="#000" stroke-width="1.9"/>
<path d="M678,766.9 L673.6,823.7" fill="none" stroke="#000" stroke-width="1.9"/>
<path d="M706.4,702.1 L702.8,726.9" fill="none" stroke="#000" stroke-width="1.9"/>
<path d="M705.5,730.5 L686.9,837.8" fill="none" stroke="#000" stroke-width="1.9"/>
<path d="M724.7,741.1 L701.1,845.8" fill="none" stroke="#000" stroke-width="1.9"/>
<path d="M743.7,751.8 L720.6,846.7" fill="none" stroke="#000" stroke-width="1.9"/>
<path d="M769.9,763.7 L764.1,789" fill="none" stroke="#000" stroke-width="1.9"/>
<path d="M757,818.3 L747.2,864.5" fill="none" stroke="#000" stroke-width="1.9"/>
<path d="M 603.2,781.9 L 618.6,790.9 Q 625.6,797.9 622.8,806.9 L 613.7,809.7 L 597.7,807.6 Z" fill="white" stroke="#000" stroke-width="1.9"/>
<ellipse cx="599.8" cy="794.8" rx="6.3" ry="13.4" transform="rotate(25 599.8 794.8)" fill="white" stroke="#000" stroke-width="2.3"/>
<ellipse cx="601.7" cy="795.7" rx="5.9" ry="12.5" transform="rotate(25 601.7 795.7)" fill="none" stroke="#000" stroke-width="2"/>
<ellipse cx="605.1" cy="797.2" rx="5.3" ry="11.7" transform="rotate(25 605.1 797.2)" fill="white" stroke="#000" stroke-width="2.1"/>
<ellipse cx="607.8" cy="798.4" rx="5" ry="10.9" transform="rotate(25 607.8 798.4)" fill="white" stroke="#000" stroke-width="2.1"/>
<ellipse cx="610.6" cy="799.7" rx="4.7" ry="10" transform="rotate(25 610.6 799.7)" fill="white" stroke="#000" stroke-width="2.1"/>
<ellipse cx="613.4" cy="801" rx="4.5" ry="9.2" transform="rotate(25 613.4 801)" fill="white" stroke="#000" stroke-width="2.1"/>
<ellipse cx="616.2" cy="802.2" rx="4.2" ry="8.4" transform="rotate(25 616.2 802.2)" fill="white" stroke="#000" stroke-width="2.1"/>
<ellipse cx="619.6" cy="802.8" rx="3.9" ry="5.9" transform="rotate(25 619.6 802.8)" fill="white" stroke="#000" stroke-width="2.1"/>
<ellipse cx="620" cy="802.9" rx="1.8" ry="2.5" transform="rotate(25 620 802.9)" fill="none" stroke="#000" stroke-width="1.7"/>
<path d="M 618.6,801.8 L 621.4,804.2 M 621.4,801.4 L 618.9,804.4" fill="none" stroke="#000" stroke-width="1.3"/>
<ellipse cx="633.2" cy="810.4" rx="6.7" ry="10.9" transform="rotate(25 633.2 810.4)" fill="white" stroke="#000" stroke-width="2.2"/>
<ellipse cx="646.5" cy="816.7" rx="2" ry="5" transform="rotate(25 646.5 816.7)" fill="white" stroke="#000" stroke-width="2.3"/>
<ellipse cx="650.2" cy="818.9" rx="2" ry="5" transform="rotate(25 650.2 818.9)" fill="white" stroke="#000" stroke-width="2.3"/>
<ellipse cx="654" cy="821.2" rx="2" ry="5" transform="rotate(25 654 821.2)" fill="white" stroke="#000" stroke-width="2.3"/>
<ellipse cx="657.8" cy="823.4" rx="2" ry="5" transform="rotate(25 657.8 823.4)" fill="white" stroke="#000" stroke-width="2.3"/>
<ellipse cx="671.6" cy="833.4" rx="6.6" ry="10.5" transform="rotate(25 671.6 833.4)" fill="white" stroke="#000" stroke-width="2.2"/>
<ellipse cx="685.5" cy="840.1" rx="3.9" ry="5" transform="rotate(25 685.5 840.1)" fill="white" stroke="#000" stroke-width="2.2"/>
<ellipse cx="688.3" cy="841.4" rx="4.5" ry="5.6" transform="rotate(25 688.3 841.4)" fill="white" stroke="#000" stroke-width="2.2"/>
<ellipse cx="688.7" cy="841.5" rx="2" ry="2.6" transform="rotate(25 688.7 841.5)" fill="none" stroke="#000" stroke-width="1.7"/>
<ellipse cx="699.9" cy="848.1" rx="1.7" ry="1.7" fill="white" stroke="#000" stroke-width="2"/>
<path d="M 712.7,845.3 L 729.4,851.6 Q 739.2,859.2 735,870.4 L 725.9,876 L 709.9,867.6 Q 702.9,859.2 705.7,850.9 Z" fill="white" stroke="#000" stroke-width="2.1"/>
<ellipse cx="711" cy="856.2" rx="5.9" ry="12.3" transform="rotate(25 711 856.2)" fill="none" stroke="#000" stroke-width="2.1"/>
<ellipse cx="727.3" cy="863.4" rx="8.6" ry="12.8" transform="rotate(25 727.3 863.4)" fill="white" stroke="#000" stroke-width="2.3"/>
<ellipse cx="725.9" cy="863.1" rx="8.6" ry="12.8" transform="rotate(25 725.9 863.1)" fill="none" stroke="#000" stroke-width="1.8"/>
<ellipse cx="729.1" cy="864.8" rx="4.7" ry="7.2" transform="rotate(25 729.1 864.8)" fill="none" stroke="#000" stroke-width="2.1"/>
<ellipse cx="729.8" cy="865.4" rx="1.8" ry="2.8" transform="rotate(25 729.8 865.4)" fill="none" stroke="#000" stroke-width="1.9"/>
<path d="M 719,856.4 Q 716.2,864.8 721.7,871.8" fill="none" stroke="#000" stroke-width="1.8"/>
<ellipse cx="743.4" cy="873.9" rx="6.6" ry="10" transform="rotate(25 743.4 873.9)" fill="white" stroke="#000" stroke-width="2.2"/>
<path d="M 755.2,875.3 L 765.7,878 L 781,887.8 Q 784.5,892.7 783.1,896.9 L 775.4,900.4 L 760.1,892.7 L 753.1,882.9 Z" fill="white" stroke="#000" stroke-width="1.9"/>
<ellipse cx="754.5" cy="879" rx="2.4" ry="4.2" transform="rotate(25 754.5 879)" fill="white" stroke="#000" stroke-width="2"/>
<ellipse cx="760.4" cy="883.6" rx="4.7" ry="9.5" transform="rotate(25 760.4 883.6)" fill="white" stroke="#000" stroke-width="2.2"/>
<ellipse cx="762.6" cy="884.6" rx="4.7" ry="9.5" transform="rotate(25 762.6 884.6)" fill="white" stroke="#000" stroke-width="2.2"/>
<path d="M 764.3,876 L 771.2,880.1 M 760.8,893.4 L 769.8,898.3" fill="none" stroke="#000" stroke-width="1.9"/>
<ellipse cx="771" cy="889.2" rx="4.7" ry="9.2" transform="rotate(25 771 889.2)" fill="white" stroke="#000" stroke-width="2.2"/>
<ellipse cx="773.2" cy="890.3" rx="4.7" ry="9.2" transform="rotate(25 773.2 890.3)" fill="white" stroke="#000" stroke-width="2.2"/>
<ellipse cx="777.9" cy="893.2" rx="3.6" ry="6.1" transform="rotate(25 777.9 893.2)" fill="white" stroke="#000" stroke-width="2.2"/>
<ellipse cx="778.5" cy="893.5" rx="1.8" ry="3.1" transform="rotate(25 778.5 893.5)" fill="none" stroke="#000" stroke-width="1.8"/>
<ellipse cx="782.4" cy="894.9" rx="1.3" ry="2" transform="rotate(25 782.4 894.9)" fill="white" stroke="#000" stroke-width="1.7"/>
<ellipse cx="793.9" cy="900.3" rx="5" ry="6" transform="rotate(25 793.9 900.3)" fill="white" stroke="#000" stroke-width="2"/>
<ellipse cx="557.7" cy="882.6" rx="4.1" ry="6.5" transform="rotate(-30 557.7 882.6)" fill="white" stroke="#000" stroke-width="1.9"/>
<ellipse cx="542" cy="894.5" rx="6" ry="8.6" transform="rotate(-30 542 894.5)" fill="white" stroke="#000" stroke-width="2"/>
<ellipse cx="541.3" cy="894.9" rx="3.4" ry="5.2" transform="rotate(-30 541.3 894.9)" fill="none" stroke="#000" stroke-width="1.7"/>
<ellipse cx="540.9" cy="895.1" rx="1.5" ry="2.4" transform="rotate(-30 540.9 895.1)" fill="none" stroke="#000" stroke-width="1.4"/>
<path d="M515.4,910.6 L530.1,902" fill="none" stroke="#000" stroke-width="1.9"/>
<ellipse cx="506.4" cy="914.9" rx="6.5" ry="9" transform="rotate(-30 506.4 914.9)" fill="white" stroke="#000" stroke-width="2"/>
<ellipse cx="503.8" cy="916.5" rx="6.5" ry="9" transform="rotate(-30 503.8 916.5)" fill="white" stroke="#000" stroke-width="2"/>
<ellipse cx="503.4" cy="916.7" rx="3" ry="4.3" transform="rotate(-30 503.4 916.7)" fill="none" stroke="#000" stroke-width="1.7"/>
<path d="M 501,908.5 L 507.5,907.4 M 499.9,924.6 L 506.4,924.2" fill="none" stroke="#000" stroke-width="1.4"/>
<ellipse cx="488.7" cy="924.6" rx="6" ry="8.6" transform="rotate(-30 488.7 924.6)" fill="white" stroke="#000" stroke-width="2"/>
<ellipse cx="486.6" cy="925.9" rx="6" ry="8.6" transform="rotate(-30 486.6 925.9)" fill="white" stroke="#000" stroke-width="2"/>
<ellipse cx="486.1" cy="926.1" rx="2.8" ry="4.3" transform="rotate(-30 486.1 926.1)" fill="none" stroke="#000" stroke-width="1.7"/>
<ellipse cx="475.2" cy="933.7" rx="2.6" ry="6.5" transform="rotate(-30 475.2 933.7)" fill="white" stroke="#000" stroke-width="1.8"/>
<ellipse cx="471.6" cy="935.7" rx="2.6" ry="6.5" transform="rotate(-30 471.6 935.7)" fill="white" stroke="#000" stroke-width="1.8"/>
<ellipse cx="468" cy="937.6" rx="2.6" ry="6.5" transform="rotate(-30 468 937.6)" fill="white" stroke="#000" stroke-width="1.8"/>
<ellipse cx="464.4" cy="939.6" rx="2.6" ry="6.5" transform="rotate(-30 464.4 939.6)" fill="white" stroke="#000" stroke-width="1.8"/>
<ellipse cx="460.8" cy="941.6" rx="2.6" ry="6.5" transform="rotate(-30 460.8 941.6)" fill="white" stroke="#000" stroke-width="1.8"/>
<ellipse cx="457.2" cy="943.6" rx="2.6" ry="6.5" transform="rotate(-30 457.2 943.6)" fill="white" stroke="#000" stroke-width="1.8"/>
<ellipse cx="453.6" cy="945.5" rx="2.6" ry="6.5" transform="rotate(-30 453.6 945.5)" fill="white" stroke="#000" stroke-width="1.8"/>
<ellipse cx="443.9" cy="950.5" rx="2.8" ry="5.2" transform="rotate(-30 443.9 950.5)" fill="white" stroke="#000" stroke-width="1.9"/>
<path d="M 415.9,960.8 L 434.9,950.9 Q 440.7,951.6 440,957.4 L 419.8,969.5 Z" fill="white" stroke="#000" stroke-width="2"/>
<path d="M 387.9,974.6 L 409.9,962.1 Q 417,963.4 416.3,974.8 L 393.9,987.6 Q 386.2,986 387.9,974.6 Z" fill="white" stroke="#000" stroke-width="2"/>
<ellipse cx="391.1" cy="980.9" rx="4.1" ry="6.9" transform="rotate(-30 391.1 980.9)" fill="none" stroke="#000" stroke-width="1.9"/>
<path d="M 408.4,963.4 Q 414.8,967.7 413.8,975.9 M 411.6,961.9 Q 418.5,965.6 417,974.2" fill="none" stroke="#000" stroke-width="1.5"/>
<ellipse cx="378.8" cy="990.4" rx="6.7" ry="11.2" transform="rotate(-30 378.8 990.4)" fill="white" stroke="#000" stroke-width="2"/>
<path d="M 351.3,989.3 L 365.3,987.1 Q 371.7,991.4 371.1,1001.1 L 362,1017.3 L 349.1,1019.4 Z" fill="white" stroke="#000" stroke-width="1.9"/>
<ellipse cx="366.3" cy="994.7" rx="4.7" ry="10.8" transform="rotate(-30 366.3 994.7)" fill="none" stroke="#000" stroke-width="1.7"/>
<ellipse cx="362.9" cy="996.6" rx="4.7" ry="10.8" transform="rotate(-30 362.9 996.6)" fill="none" stroke="#000" stroke-width="1.7"/>
<ellipse cx="359.5" cy="998.5" rx="4.7" ry="10.8" transform="rotate(-30 359.5 998.5)" fill="none" stroke="#000" stroke-width="1.7"/>
<ellipse cx="349.5" cy="1004.4" rx="10.8" ry="17.7" transform="rotate(-30 349.5 1004.4)" fill="white" stroke="#000" stroke-width="2.1"/>
<ellipse cx="348.7" cy="1004.8" rx="8.6" ry="14.7" transform="rotate(-30 348.7 1004.8)" fill="none" stroke="#000" stroke-width="1.9"/>
<ellipse cx="349.5" cy="1004.8" rx="5.8" ry="10.3" transform="rotate(-30 349.5 1004.8)" fill="none" stroke="#000" stroke-width="1.8"/>
<path d="M 348,997.9 Q 344.8,1005.4 351.3,1011.9" fill="none" stroke="#000" stroke-width="1.5"/>
<ellipse cx="328" cy="1017.9" rx="7.3" ry="10.8" transform="rotate(-30 328 1017.9)" fill="white" stroke="#000" stroke-width="2"/>
<ellipse cx="325.8" cy="1019.2" rx="7.3" ry="10.8" transform="rotate(-30 325.8 1019.2)" fill="white" stroke="#000" stroke-width="2"/>
<ellipse cx="325.4" cy="1019.4" rx="2.2" ry="3.4" transform="rotate(-30 325.4 1019.4)" fill="none" stroke="#000" stroke-width="1.5"/>
<ellipse cx="302.8" cy="1032.4" rx="9.9" ry="13.8" transform="rotate(-30 302.8 1032.4)" fill="white" stroke="#000" stroke-width="2"/>
<ellipse cx="301.7" cy="1032.8" rx="2.4" ry="3.9" transform="rotate(-30 301.7 1032.8)" fill="none" stroke="#000" stroke-width="1.5"/>
<path d="M 265.5,1043.6 L 273.3,1039.5 L 282.3,1043.1 Q 290.9,1047.5 289.9,1052.8 Q 288.8,1060.4 279.1,1070.1 L 278,1088.8 L 269,1084.5 Z" fill="white" stroke="#000" stroke-width="2.1"/>
<path d="M 265.5,1043.6 L 274.1,1047.5 L 282.3,1043.1 M 274.1,1047.5 L 275.4,1086.2 M 271.5,1043.1 L 277.6,1044.9 L 277.6,1042.1" fill="none" stroke="#000" stroke-width="1.7"/>
<ellipse cx="283.8" cy="1055.6" rx="2.4" ry="3.9" transform="rotate(-30 283.8 1055.6)" fill="none" stroke="#000" stroke-width="1.7"/>
<path d="M 301.7,1062.5 L 323.3,1073.3 Q 325.4,1077.6 321.1,1080.8 L 299.1,1070.1 Q 297.8,1064.7 301.7,1062.5 Z" fill="white" stroke="#000" stroke-width="2"/>
<path d="M 300.6,1066.4 L 322.2,1077.2" fill="none" stroke="#000" stroke-width="1.4"/>
<ellipse cx="322.4" cy="1077" rx="1.9" ry="3.7" transform="rotate(-30 322.4 1077)" fill="none" stroke="#000" stroke-width="1.5"/>
<path d="M1216,1049 L1440.2,1179" fill="none" stroke="#000" stroke-width="1.9"/>
<path d="M1216,1049 L1216,1064.5" fill="none" stroke="#000" stroke-width="1.9"/>
<path d="M1213.6,1093.6 L1210.6,1134.2" fill="none" stroke="#000" stroke-width="1.9"/>
<path d="M1253.7,1071.3 L1235,1144.1" fill="none" stroke="#000" stroke-width="1.9"/>
<path d="M1282.8,1088.4 L1249.4,1163.9" fill="none" stroke="#000" stroke-width="1.9"/>
<path d="M1315.3,1107.3 L1268.4,1166.9" fill="none" stroke="#000" stroke-width="1.9"/>
<path d="M1342.2,1124.3 L1329.3,1135.7" fill="none" stroke="#000" stroke-width="1.9"/>
<path d="M1303.4,1163.9 L1289,1176" fill="none" stroke="#000" stroke-width="1.9"/>
<path d="M1371.9,1139.8 L1304.9,1194.3" fill="none" stroke="#000" stroke-width="1.9"/>
<path d="M1411.4,1163.9 L1386.3,1174.5" fill="none" stroke="#000" stroke-width="1.9"/>
<path d="M1346.8,1191.3 L1324.7,1200.4" fill="none" stroke="#000" stroke-width="1.9"/>
<path d="M1440.2,1179 L1355.1,1213.3" fill="none" stroke="#000" stroke-width="1.9"/>
<path d="M1306.7,1081.6 L1299.2,1093.6" fill="none" stroke="#000" stroke-width="1.9"/>
<ellipse cx="1031.3" cy="1059.8" rx="4.6" ry="6.7" transform="rotate(30 1031.3 1059.8)" fill="white" stroke="#000" stroke-width="2"/>
<ellipse cx="1034" cy="1061.3" rx="4.6" ry="6.7" transform="rotate(30 1034 1061.3)" fill="white" stroke="#000" stroke-width="2"/>
<ellipse cx="1037.7" cy="1063.1" rx="1.8" ry="2.9" transform="rotate(30 1037.7 1063.1)" fill="white" stroke="#000" stroke-width="1.7"/>
<ellipse cx="1054.1" cy="1073.2" rx="2.3" ry="5.8" transform="rotate(30 1054.1 1073.2)" fill="white" stroke="#000" stroke-width="2.3"/>
<ellipse cx="1057.4" cy="1075" rx="2.3" ry="5.8" transform="rotate(30 1057.4 1075)" fill="white" stroke="#000" stroke-width="2.3"/>
<ellipse cx="1060.6" cy="1076.8" rx="2.3" ry="5.8" transform="rotate(30 1060.6 1076.8)" fill="white" stroke="#000" stroke-width="2.3"/>
<ellipse cx="1063.8" cy="1078.6" rx="2.3" ry="5.8" transform="rotate(30 1063.8 1078.6)" fill="white" stroke="#000" stroke-width="2.3"/>
<ellipse cx="1067.1" cy="1080.5" rx="2.3" ry="5.8" transform="rotate(30 1067.1 1080.5)" fill="white" stroke="#000" stroke-width="2.3"/>
<ellipse cx="1070.3" cy="1082.3" rx="2.3" ry="5.8" transform="rotate(30 1070.3 1082.3)" fill="white" stroke="#000" stroke-width="2.3"/>
<ellipse cx="1073.6" cy="1084.1" rx="2.3" ry="5.8" transform="rotate(30 1073.6 1084.1)" fill="white" stroke="#000" stroke-width="2.3"/>
<ellipse cx="1073.6" cy="1084.1" rx="1.4" ry="3" transform="rotate(30 1073.6 1084.1)" fill="none" stroke="#000" stroke-width="1.5"/>
<path d="M 1083,1087.9 L 1086.8,1086.4 Q 1092.9,1087.9 1093.7,1093.2 L 1090.6,1098.6 L 1086,1097 Z" fill="white" stroke="#000" stroke-width="1.7"/>
<ellipse cx="1084.8" cy="1091.7" rx="2.1" ry="5.2" transform="rotate(30 1084.8 1091.7)" fill="white" stroke="#000" stroke-width="1.9"/>
<ellipse cx="1089.1" cy="1092.9" rx="4.3" ry="6.4" transform="rotate(30 1089.1 1092.9)" fill="white" stroke="#000" stroke-width="2"/>
<ellipse cx="1105.5" cy="1101.6" rx="2.3" ry="4.4" transform="rotate(30 1105.5 1101.6)" fill="white" stroke="#000" stroke-width="1.9"/>
<ellipse cx="1116.5" cy="1108.4" rx="2" ry="3.8" transform="rotate(30 1116.5 1108.4)" fill="white" stroke="#000" stroke-width="1.9"/>
<ellipse cx="1130.2" cy="1116.8" rx="2.3" ry="6.1" transform="rotate(30 1130.2 1116.8)" fill="white" stroke="#000" stroke-width="2.3"/>
<ellipse cx="1132.9" cy="1118.4" rx="2.3" ry="6.1" transform="rotate(30 1132.9 1118.4)" fill="white" stroke="#000" stroke-width="2.3"/>
<ellipse cx="1135.7" cy="1119.9" rx="2.3" ry="6.1" transform="rotate(30 1135.7 1119.9)" fill="white" stroke="#000" stroke-width="2.3"/>
<ellipse cx="1138.5" cy="1121.5" rx="2.3" ry="6.1" transform="rotate(30 1138.5 1121.5)" fill="white" stroke="#000" stroke-width="2.3"/>
<ellipse cx="1141.3" cy="1123" rx="2.3" ry="6.1" transform="rotate(30 1141.3 1123)" fill="white" stroke="#000" stroke-width="2.3"/>
<ellipse cx="1144.1" cy="1124.6" rx="2.3" ry="6.1" transform="rotate(30 1144.1 1124.6)" fill="white" stroke="#000" stroke-width="2.3"/>
<ellipse cx="1146.9" cy="1126.1" rx="2.3" ry="6.1" transform="rotate(30 1146.9 1126.1)" fill="white" stroke="#000" stroke-width="2.3"/>
<ellipse cx="1149.7" cy="1127.7" rx="2.3" ry="6.1" transform="rotate(30 1149.7 1127.7)" fill="white" stroke="#000" stroke-width="2.3"/>
<ellipse cx="1152.5" cy="1129.2" rx="2.3" ry="6.1" transform="rotate(30 1152.5 1129.2)" fill="white" stroke="#000" stroke-width="2.3"/>
<ellipse cx="1155.2" cy="1130.8" rx="2.3" ry="6.1" transform="rotate(30 1155.2 1130.8)" fill="white" stroke="#000" stroke-width="2.3"/>
<ellipse cx="1155.7" cy="1131" rx="1.2" ry="2.7" transform="rotate(30 1155.7 1131)" fill="none" stroke="#000" stroke-width="1.5"/>
<path d="M 1178.1,1137.3 Q 1173.5,1131.3 1168.2,1135.1 Q 1162.9,1141.1 1166.7,1148 Q 1170.5,1151.8 1175,1148.7" fill="none" stroke="#000" stroke-width="2.3"/>
<path d="M 1181.1,1139.6 Q 1175.8,1133.5 1170.9,1137.3 Q 1166.7,1142.7 1169.7,1148.3 Q 1172.7,1151.8 1177.3,1149.5 M 1178.1,1137.3 L 1181.1,1139.6 M 1175,1148.7 L 1177.3,1149.5 M 1173.5,1141.1 Q 1175,1138.9 1177.3,1140.4 M 1173.5,1144.9 Q 1175,1146.5 1177.3,1144.9" fill="none" stroke="#000" stroke-width="1.9"/>
<ellipse cx="1209.4" cy="1143.8" rx="6.2" ry="9.4" transform="rotate(30 1209.4 1143.8)" fill="white" stroke="#000" stroke-width="2"/>
<path d="M 1226.2,1143 L 1243.3,1152.2 Q 1248.7,1160.8 1243.3,1169.2 L 1236.5,1170.3 L 1219,1161.6 Z" fill="white" stroke="#000" stroke-width="1.9"/>
<ellipse cx="1221.3" cy="1152" rx="5.5" ry="10.6" transform="rotate(30 1221.3 1152)" fill="white" stroke="#000" stroke-width="2"/>
<ellipse cx="1224" cy="1153.2" rx="5.5" ry="10.6" transform="rotate(30 1224 1153.2)" fill="white" stroke="#000" stroke-width="2"/>
<path d="M 1227.4,1144.1 Q 1222.8,1153.2 1228.9,1163.9" fill="none" stroke="#000" stroke-width="1.7"/>
<ellipse cx="1240.3" cy="1161.1" rx="5.2" ry="9.4" transform="rotate(30 1240.3 1161.1)" fill="white" stroke="#000" stroke-width="2"/>
<ellipse cx="1240.8" cy="1161.6" rx="2.6" ry="5.2" transform="rotate(30 1240.8 1161.6)" fill="none" stroke="#000" stroke-width="1.8"/>
<ellipse cx="1249" cy="1166.9" rx="2.1" ry="2.1" fill="white" stroke="#000" stroke-width="1.8"/>
<ellipse cx="1260.1" cy="1172.7" rx="4" ry="7" transform="rotate(30 1260.1 1172.7)" fill="white" stroke="#000" stroke-width="2.1"/>
<ellipse cx="1262.7" cy="1174.1" rx="4" ry="7" transform="rotate(30 1262.7 1174.1)" fill="white" stroke="#000" stroke-width="2.1"/>
<ellipse cx="1265.7" cy="1175.6" rx="3.7" ry="5.5" transform="rotate(30 1265.7 1175.6)" fill="white" stroke="#000" stroke-width="2"/>
<ellipse cx="1266.2" cy="1175.7" rx="1.5" ry="2.3" transform="rotate(30 1266.2 1175.7)" fill="none" stroke="#000" stroke-width="1.5"/>
<ellipse cx="1282.1" cy="1184" rx="6.2" ry="9.4" transform="rotate(30 1282.1 1184)" fill="white" stroke="#000" stroke-width="2"/>
<ellipse cx="1296.1" cy="1195.4" rx="1.8" ry="4.6" transform="rotate(30 1296.1 1195.4)" fill="white" stroke="#000" stroke-width="2.1"/>
<ellipse cx="1299.8" cy="1197.3" rx="1.8" ry="4.6" transform="rotate(30 1299.8 1197.3)" fill="white" stroke="#000" stroke-width="2.1"/>
<ellipse cx="1303.4" cy="1199.3" rx="1.8" ry="4.6" transform="rotate(30 1303.4 1199.3)" fill="white" stroke="#000" stroke-width="2.1"/>
<ellipse cx="1307.1" cy="1201.3" rx="1.8" ry="4.6" transform="rotate(30 1307.1 1201.3)" fill="white" stroke="#000" stroke-width="2.1"/>
<ellipse cx="1318.6" cy="1208" rx="6.2" ry="9.4" transform="rotate(30 1318.6 1208)" fill="white" stroke="#000" stroke-width="2"/>
<path d="M 1337.6,1205.7 L 1353.6,1213.3 Q 1359.7,1221.7 1355.1,1232.3 L 1346,1236.9 L 1330.8,1229.3 Z" fill="white" stroke="#000" stroke-width="1.9"/>
<ellipse cx="1332.6" cy="1217.4" rx="6.1" ry="11.9" transform="rotate(30 1332.6 1217.4)" fill="white" stroke="#000" stroke-width="2.1"/>
<ellipse cx="1336.3" cy="1219.2" rx="6.1" ry="11.9" transform="rotate(30 1336.3 1219.2)" fill="white" stroke="#000" stroke-width="2.1"/>
<ellipse cx="1339.9" cy="1221.1" rx="6.1" ry="11.9" transform="rotate(30 1339.9 1221.1)" fill="white" stroke="#000" stroke-width="2.1"/>
<ellipse cx="1343.6" cy="1222.9" rx="6.1" ry="11.9" transform="rotate(30 1343.6 1222.9)" fill="white" stroke="#000" stroke-width="2.1"/>
<ellipse cx="1349.8" cy="1225" rx="7.3" ry="12.2" transform="rotate(30 1349.8 1225)" fill="white" stroke="#000" stroke-width="2.1"/>
<path d="M 1350.6,1214.8 L 1348.3,1235.4 M 1352.5,1215.6 L 1350.6,1235.4" fill="none" stroke="#000" stroke-width="1.8"/>
<path d="M 853.7,1096.5 L 853.7,1122.2 M 853.7,1137.6 L 853.7,1159.2 L 857.9,1159.2" fill="none" stroke="#000" stroke-width="2"/>
<path d="M 831.7,1149 L 831.7,1134.1 L 866.5,1153.5 L 866.5,1142.1" fill="none" stroke="#000" stroke-width="2"/>
<path d="M 871.6,1158.7 L 897.8,1158.7 M 884.7,1146.7 L 884.7,1166.1" fill="none" stroke="#000" stroke-width="2"/>
<path d="M 905.8,1145.6 L 905.8,1167.2 L 920.6,1177.5 L 920.6,1198" fill="none" stroke="#000" stroke-width="2"/>
<path d="M 913.2,1141.6 L 913.2,1150.1 L 946.9,1169.5 L 946.9,1176.3" fill="none" stroke="#000" stroke-width="2"/>
<path d="M 898.4,1171.8 L 898.4,1196.9 M 898.4,1211.1 L 898.4,1214.6 L 923.5,1224.3" fill="none" stroke="#000" stroke-width="2"/>
<path d="M 859.6,1110.2 L 859.6,1128.4 A 31.4,17.1 0 0 0 922.4,1128.4 L 922.4,1110.2 Z" fill="white" stroke="none" stroke-width="1.7"/>
<path d="M 859.6,1110.2 L 859.6,1128.4 A 31.4,17.1 0 0 0 922.4,1128.4 L 922.4,1110.2" fill="none" stroke="#000" stroke-width="2.2"/>
<ellipse cx="891" cy="1110.2" rx="31.4" ry="17.1" fill="white" stroke="#000" stroke-width="2.2"/>
<path d="M 859.6,1123.3 A 31.4,17.1 0 0 0 922.4,1123.3" fill="none" stroke="#000" stroke-width="1.9"/>
<ellipse cx="871" cy="1099.9" rx="2.5" ry="1.4" fill="none" stroke="#000" stroke-width="1.9"/>
<ellipse cx="879" cy="1102.8" rx="2.9" ry="1.5" fill="none" stroke="#000" stroke-width="1.9"/>
<ellipse cx="867" cy="1109" rx="2.5" ry="1.4" fill="none" stroke="#000" stroke-width="1.9"/>
<ellipse cx="867.6" cy="1114.8" rx="2.5" ry="1.4" fill="none" stroke="#000" stroke-width="1.9"/>
<ellipse cx="885.9" cy="1112.5" rx="4.3" ry="2.3" fill="none" stroke="#000" stroke-width="1.9"/>
<ellipse cx="897.3" cy="1105.6" rx="4" ry="2.3" fill="none" stroke="#000" stroke-width="1.9"/>
<ellipse cx="912.7" cy="1108.5" rx="3.7" ry="2.3" fill="none" stroke="#000" stroke-width="1.9"/>
<ellipse cx="884.1" cy="1122.7" rx="4" ry="2.1" fill="none" stroke="#000" stroke-width="1.9"/>
<ellipse cx="894.4" cy="1122.7" rx="4" ry="2.1" fill="none" stroke="#000" stroke-width="1.9"/>
<ellipse cx="905.6" cy="1121" rx="2.1" ry="1.4" fill="none" stroke="#000" stroke-width="1.9"/>
<ellipse cx="905.8" cy="1073.7" rx="3.7" ry="1.7" fill="white" stroke="#000" stroke-width="1.9"/>
<ellipse cx="879" cy="1084.5" rx="3.4" ry="1.6" fill="white" stroke="#000" stroke-width="1.9"/>
<path d="M 878.2,1086.2 L 878.2,1101.1 M 879.8,1086.2 L 879.8,1101.1" fill="none" stroke="#000" stroke-width="1.7"/>
<path d="M 888.7,1060 L 888.7,1071.4 M 888.7,1079.4 L 888.7,1105.6" fill="none" stroke="#000" stroke-width="2"/>
<path d="M905.8,1083.4 L905.8,1133" fill="none" stroke="#000" stroke-width="2.6"/>
<path d="M 859,1089.1 L 873.9,1089.1 M 909.2,1089.1 L 925.8,1089.1 M 883,1089.1 L 885.3,1089.1 M 899,1089.1 L 901.3,1089.1 M 893.3,1098.2 L 893.8,1093.7 L 902.4,1093.1" fill="none" stroke="#000" stroke-width="1.9"/>
<path d="M 904.1,1116.5 Q 905.8,1117.6 907.5,1116.5" fill="none" stroke="#000" stroke-width="1.4"/>
<ellipse cx="884.7" cy="1174.1" rx="8.2" ry="4.8" fill="white" stroke="#000" stroke-width="2.1"/>
<path d="M 828.8,1157 Q 828.8,1154.7 833.4,1154.7 Q 837.9,1154.7 837.9,1157 L 837.9,1175.2 L 828.8,1175.2 Z" fill="white" stroke="#000" stroke-width="2"/>
<path d="M 828.8,1159.2 Q 833.4,1161 837.9,1159.2" fill="none" stroke="#000" stroke-width="1.5"/>
<path d="M 828.8,1163.2 Q 833.4,1164.9 837.9,1163.2" fill="none" stroke="#000" stroke-width="1.5"/>
<path d="M 828.8,1167.2 Q 833.4,1168.9 837.9,1167.2" fill="none" stroke="#000" stroke-width="1.5"/>
<path d="M 828.8,1171.2 Q 833.4,1172.9 837.9,1171.2" fill="none" stroke="#000" stroke-width="1.5"/>
<path d="M 824.3,1179.2 L 824.8,1183.8 Q 833.4,1188.9 841.9,1183.8 L 842.5,1179.2 Z" fill="white" stroke="#000" stroke-width="2"/>
<path d="M 830,1182.6 L 830,1186.4 M 837.4,1182.6 L 837.4,1186.4" fill="none" stroke="#000" stroke-width="1.5"/>
<ellipse cx="833.4" cy="1177.5" rx="11.1" ry="5.1" fill="white" stroke="#000" stroke-width="2.1"/>
<path d="M 828.8,1175.2 Q 833.4,1177.5 837.9,1175.2" fill="none" stroke="#000" stroke-width="1.5"/>
<path d="M 876.7,1214 L 876.7,1219.7 L 880.2,1224.3 L 885.3,1222 L 892.1,1215.1 L 892.1,1211.7 Z" fill="white" stroke="#000" stroke-width="2"/>
<path d="M 880.2,1217.4 L 880.2,1224.3 M 885.3,1217.4 L 885.3,1222" fill="none" stroke="#000" stroke-width="1.5"/>
<path d="M 873.9,1201.4 L 873.9,1211.7 A 9.7,4.6 0 0 0 893.3,1211.7 L 893.3,1201.4 Z" fill="white" stroke="none" stroke-width="1.7"/>
<path d="M 873.9,1201.4 L 873.9,1211.7 A 9.7,4.6 0 0 0 893.3,1211.7 L 893.3,1201.4" fill="none" stroke="#000" stroke-width="2.1"/>
<ellipse cx="883.6" cy="1201.4" rx="9.7" ry="4.6" fill="white" stroke="#000" stroke-width="2.1"/>
<path d="M 873.9,1204.9 A 9.7,4.6 0 0 0 893.3,1204.9 M 873.9,1208.3 A 9.7,4.6 0 0 0 893.3,1208.3" fill="none" stroke="#000" stroke-width="1.7"/>
<path d="M 877.3,1192.9 L 877.3,1198.6 A 6.3,3 0 0 0 889.8,1198.6 L 889.8,1192.9 Z" fill="white" stroke="none" stroke-width="1.7"/>
<path d="M 877.3,1192.9 L 877.3,1198.6 A 6.3,3 0 0 0 889.8,1198.6 L 889.8,1192.9" fill="none" stroke="#000" stroke-width="2"/>
<ellipse cx="883.6" cy="1192.9" rx="6.3" ry="3" fill="white" stroke="#000" stroke-width="2"/>
<ellipse cx="883.6" cy="1192.7" rx="2.9" ry="1.3" fill="none" stroke="#000" stroke-width="1.5"/>
<path d="M 880.7,1190 L 886.4,1190" fill="none" stroke="#000" stroke-width="1.4"/>
<path d="M 918.4,1202.6 Q 918.4,1200.9 921.2,1200.9 Q 924.1,1200.9 924.1,1202.6 L 924.1,1217.4 Q 921.2,1219.1 918.4,1217.4 Z" fill="white" stroke="#000" stroke-width="1.9"/>
<path d="M 918.4,1202.8 Q 921.2,1204.3 924.1,1202.8" fill="none" stroke="#000" stroke-width="1.4"/>
<path d="M 942.3,1181.5 Q 942.3,1179.8 946.7,1179.8 Q 950.9,1179.8 950.9,1181.5 L 950.9,1198.6 L 942.3,1198.6 Z" fill="white" stroke="#000" stroke-width="2"/>
<path d="M 942.3,1183.8 Q 946.7,1185.4 950.9,1183.8" fill="none" stroke="#000" stroke-width="1.5"/>
<path d="M 942.3,1187.8 Q 946.7,1189.4 950.9,1187.8" fill="none" stroke="#000" stroke-width="1.5"/>
<path d="M 942.3,1191.7 Q 946.7,1193.3 950.9,1191.7" fill="none" stroke="#000" stroke-width="1.5"/>
<path d="M 942.3,1195.7 Q 946.7,1197.3 950.9,1195.7" fill="none" stroke="#000" stroke-width="1.5"/>
<ellipse cx="946.9" cy="1204" rx="8.6" ry="4.8" fill="white" stroke="#000" stroke-width="2.1"/>
<path d="M 938.3,1200.3 L 938.3,1204 M 955.4,1200.3 L 955.4,1204" fill="none" stroke="#000" stroke-width="1.8"/>
<ellipse cx="946.9" cy="1200.3" rx="8.6" ry="4.8" fill="white" stroke="#000" stroke-width="2.1"/>
<ellipse cx="946.7" cy="1199.7" rx="4.6" ry="2.3" fill="none" stroke="#000" stroke-width="1.7"/>
<ellipse cx="878.5" cy="1323.8" rx="57.8" ry="33.5" fill="none" stroke="#000" stroke-width="4"/>
<path d="M 856.3,1259.7 L 856.3,1280.6 A 34.2,17.9 0 0 0 924.8,1280.6 L 924.8,1259.7 Z" fill="white" stroke="none" stroke-width="1.7"/>
<path d="M 856.3,1259.7 L 856.3,1280.6 A 34.2,17.9 0 0 0 924.8,1280.6 L 924.8,1259.7" fill="none" stroke="#000" stroke-width="2.3"/>
<path d="M 856.3,1264.6 A 34.2,17.9 0 0 0 924.8,1264.6 M 856.3,1270.7 A 34.2,17.9 0 0 0 924.8,1270.7 M 856.3,1275.6 A 34.2,17.9 0 0 0 924.8,1275.6" fill="none" stroke="#000" stroke-width="1.9"/>
<path d="M862.8,1281.7 L862.8,1285.5" fill="none" stroke="#000" stroke-width="1.9"/>
<path d="M864.9,1283.1 L864.9,1286.9" fill="none" stroke="#000" stroke-width="1.9"/>
<path d="M867.1,1284.3 L867.1,1288.1" fill="none" stroke="#000" stroke-width="1.9"/>
<path d="M869.2,1285.3 L869.2,1289.1" fill="none" stroke="#000" stroke-width="1.9"/>
<path d="M871.3,1286.1 L871.3,1289.9" fill="none" stroke="#000" stroke-width="1.9"/>
<path d="M873.5,1286.8 L873.5,1290.6" fill="none" stroke="#000" stroke-width="1.9"/>
<path d="M875.6,1287.4 L875.6,1291.2" fill="none" stroke="#000" stroke-width="1.9"/>
<path d="M877.7,1287.9 L877.7,1291.7" fill="none" stroke="#000" stroke-width="1.9"/>
<path d="M879.8,1288.3 L879.8,1292.1" fill="none" stroke="#000" stroke-width="1.9"/>
<path d="M882,1288.6 L882,1292.4" fill="none" stroke="#000" stroke-width="1.9"/>
<path d="M884.1,1288.8 L884.1,1292.6" fill="none" stroke="#000" stroke-width="1.9"/>
<path d="M886.2,1289 L886.2,1292.8" fill="none" stroke="#000" stroke-width="1.9"/>
<path d="M888.4,1289.1 L888.4,1292.9" fill="none" stroke="#000" stroke-width="1.9"/>
<path d="M890.5,1289.2 L890.5,1293" fill="none" stroke="#000" stroke-width="1.9"/>
<path d="M892.6,1289.1 L892.6,1292.9" fill="none" stroke="#000" stroke-width="1.9"/>
<path d="M894.8,1289 L894.8,1292.8" fill="none" stroke="#000" stroke-width="1.9"/>
<path d="M896.9,1288.9 L896.9,1292.7" fill="none" stroke="#000" stroke-width="1.9"/>
<path d="M899,1288.6 L899,1292.4" fill="none" stroke="#000" stroke-width="1.9"/>
<path d="M901.1,1288.3 L901.1,1292.1" fill="none" stroke="#000" stroke-width="1.9"/>
<path d="M903.3,1287.9 L903.3,1291.7" fill="none" stroke="#000" stroke-width="1.9"/>
<path d="M905.4,1287.4 L905.4,1291.2" fill="none" stroke="#000" stroke-width="1.9"/>
<path d="M907.5,1286.8 L907.5,1290.6" fill="none" stroke="#000" stroke-width="1.9"/>
<path d="M909.7,1286.1 L909.7,1289.9" fill="none" stroke="#000" stroke-width="1.9"/>
<path d="M911.8,1285.3 L911.8,1289.1" fill="none" stroke="#000" stroke-width="1.9"/>
<path d="M913.9,1284.4 L913.9,1288.2" fill="none" stroke="#000" stroke-width="1.9"/>
<path d="M916,1283.2 L916,1287" fill="none" stroke="#000" stroke-width="1.9"/>
<path d="M918.2,1281.9 L918.2,1285.7" fill="none" stroke="#000" stroke-width="1.9"/>
<ellipse cx="890.6" cy="1259.7" rx="34.2" ry="17.9" fill="white" stroke="#000" stroke-width="2.3"/>
<ellipse cx="890.6" cy="1260.6" rx="28.5" ry="14.4" fill="none" stroke="#000" stroke-width="2.1"/>
<path d="M 865,1260.1 A 26.8,13.2 0 0 1 916.1,1260.1" fill="none" stroke="#000" stroke-width="2.2"/>
<path d="M 867.1,1263.5 A 25.2,12 0 0 1 914.1,1263.5" fill="none" stroke="#000" stroke-width="2.2"/>
<path d="M 869.1,1267.1 A 23.5,10.8 0 0 1 912,1267.1" fill="none" stroke="#000" stroke-width="2.2"/>
<path d="M 871.1,1270.8 A 21.8,9.6 0 0 1 910,1270.8" fill="none" stroke="#000" stroke-width="2.2"/>
<path d="M 875.7,1271.4 L 875.7,1282.5 M 879.5,1283.2 L 879.5,1278.7 L 893.2,1278.1 Q 908.4,1272.6 916.4,1263.5" fill="none" stroke="#000" stroke-width="2.2"/>
<path d="M 902,1248.6 L 908.1,1240.6 L 919.8,1250.5 M 908.1,1244.1 L 916,1250.9" fill="none" stroke="#000" stroke-width="2.2"/>
<path d="M 569.2,1191 Q 597.7,1204.6 595.8,1223.7 Q 590.1,1242.7 592,1258.8" fill="none" stroke="#000" stroke-width="4.4"/>
<path d="M 569.2,1191 Q 597.7,1204.6 595.8,1223.7 Q 590.1,1242.7 592,1258.8" fill="none" stroke="#fff" stroke-width="1.3"/>
<path d="M 546.4,1203.7 Q 571.1,1214.1 580.6,1231.3 Q 585.4,1246.5 588.2,1258.8" fill="none" stroke="#000" stroke-width="4.4"/>
<path d="M 546.4,1203.7 Q 571.1,1214.1 580.6,1231.3 Q 585.4,1246.5 588.2,1258.8" fill="none" stroke="#fff" stroke-width="1.3"/>
<path d="M 521.7,1219.5 L 591.1,1261.7" fill="none" stroke="#000" stroke-width="4.4"/>
<path d="M 521.7,1219.5 L 591.1,1261.7" fill="none" stroke="#fff" stroke-width="1.3"/>
<path d="M 508.4,1238.9 Q 533.1,1261.7 590.1,1266.4" fill="none" stroke="#000" stroke-width="4.4"/>
<path d="M 508.4,1238.9 Q 533.1,1261.7 590.1,1266.4" fill="none" stroke="#fff" stroke-width="1.3"/>
<path d="M 597.7,1258.8 L 697,1312.1 Q 700.4,1320.6 693.7,1330.1 L 689,1330.1 L 590.1,1270.2 Q 587.3,1261.7 597.7,1258.8 Z" fill="white" stroke="#000" stroke-width="2.1"/>
<ellipse cx="692.8" cy="1323.5" rx="2.7" ry="6.5" transform="rotate(-20 692.8 1323.5)" fill="none" stroke="#000" stroke-width="1.8"/>
<path d="M 558.7,1184.7 L 569.2,1191" fill="none" stroke="#000" stroke-width="5.5"/>
<path d="M 559.9,1185.4 L 567.7,1190" fill="none" stroke="#fff" stroke-width="3"/>
<path d="M 554.9,1182.4 L 558.7,1184.7" fill="none" stroke="#000" stroke-width="4"/>
<ellipse cx="549.2" cy="1179" rx="9.5" ry="6.8" transform="rotate(15 549.2 1179)" fill="white" stroke="#000" stroke-width="2.3"/>
<ellipse cx="548.3" cy="1178" rx="3.8" ry="2.7" transform="rotate(15 548.3 1178)" fill="none" stroke="#000" stroke-width="1.8"/>
<path d="M 547.7,1177.5 L 549.6,1178.6" fill="none" stroke="#000" stroke-width="1.5"/>
<path d="M 535.4,1197 L 546.4,1203.7" fill="none" stroke="#000" stroke-width="5.5"/>
<path d="M 536.5,1197.8 L 544.9,1202.7" fill="none" stroke="#fff" stroke-width="3"/>
<path d="M 530.2,1194.8 L 535.4,1197" fill="none" stroke="#000" stroke-width="4"/>
<ellipse cx="524.5" cy="1191.3" rx="9.5" ry="6.8" transform="rotate(15 524.5 1191.3)" fill="white" stroke="#000" stroke-width="2.3"/>
<ellipse cx="523.6" cy="1190.4" rx="3.8" ry="2.7" transform="rotate(15 523.6 1190.4)" fill="none" stroke="#000" stroke-width="1.8"/>
<path d="M 523,1189.8 L 524.9,1191" fill="none" stroke="#000" stroke-width="1.5"/>
<path d="M 511.2,1213.8 L 521.7,1219.5" fill="none" stroke="#000" stroke-width="5.5"/>
<path d="M 512.4,1214.5 L 520.2,1218.5" fill="none" stroke="#fff" stroke-width="3"/>
<path d="M 505.5,1210.9 L 511.2,1213.8" fill="none" stroke="#000" stroke-width="4"/>
<ellipse cx="499.8" cy="1207.5" rx="9.5" ry="6.8" transform="rotate(15 499.8 1207.5)" fill="white" stroke="#000" stroke-width="2.3"/>
<ellipse cx="498.9" cy="1206.5" rx="3.8" ry="2.7" transform="rotate(15 498.9 1206.5)" fill="none" stroke="#000" stroke-width="1.8"/>
<path d="M 498.3,1206 L 500.2,1207.1" fill="none" stroke="#000" stroke-width="1.5"/>
<path d="M 478.9,1218.9 L 492.2,1229.4 L 494.7,1225.9 Z" fill="#000" stroke="#000" stroke-width="1.4"/>
<path d="M 492.2,1225.2 L 505.5,1230.9 Q 509.3,1235.1 506.5,1239.8 L 491.3,1233.2 Q 489.4,1228.4 492.2,1225.2 Z" fill="white" stroke="#000" stroke-width="2.2"/>
<path d="M 497.9,1227.8 Q 495.1,1232.2 497,1236 M 501.7,1229.4 Q 498.9,1234.1 500.8,1237.9" fill="none" stroke="#000" stroke-width="1.9"/>
<path d="M 699.8,1326.5 L 708.4,1331.6 M 740.3,1334.6 L 748.4,1339.2 M 725.1,1341.5 L 737.8,1348.3" fill="none" stroke="#000" stroke-width="2"/>
<path d="M 768.2,1349.8 L 812.8,1376.2 M 818.4,1379 L 822,1381 M 828,1384.1 L 840,1390.2" fill="none" stroke="#000" stroke-width="2.3"/>
<path d="M 800.2,1375.7 L 842.2,1397.3 L 827,1411.7 L 793.6,1389.9 Q 792.5,1381.3 800.2,1375.7 Z" fill="white" stroke="#000" stroke-width="2.2"/>
<ellipse cx="797.6" cy="1380.2" rx="2.2" ry="4.6" transform="rotate(30 797.6 1380.2)" fill="none" stroke="#000" stroke-width="1.9"/>
<ellipse cx="724.6" cy="1320.4" rx="2.2" ry="4.9" transform="rotate(30 724.6 1320.4)" fill="white" stroke="#000" stroke-width="2.1"/>
<ellipse cx="727" cy="1322.2" rx="2.2" ry="4.9" transform="rotate(30 727 1322.2)" fill="white" stroke="#000" stroke-width="2.1"/>
<ellipse cx="729.5" cy="1324.1" rx="2.2" ry="4.9" transform="rotate(30 729.5 1324.1)" fill="white" stroke="#000" stroke-width="2.1"/>
<ellipse cx="731.9" cy="1325.9" rx="2.2" ry="4.9" transform="rotate(30 731.9 1325.9)" fill="white" stroke="#000" stroke-width="2.1"/>
<ellipse cx="734.3" cy="1327.7" rx="2.2" ry="4.9" transform="rotate(30 734.3 1327.7)" fill="white" stroke="#000" stroke-width="2.1"/>
<ellipse cx="736.8" cy="1329.5" rx="2.2" ry="4.9" transform="rotate(30 736.8 1329.5)" fill="white" stroke="#000" stroke-width="2.1"/>
<ellipse cx="720.6" cy="1322.2" rx="5.6" ry="9.3" transform="rotate(30 720.6 1322.2)" fill="white" stroke="#000" stroke-width="2.2"/>
<ellipse cx="715" cy="1320.6" rx="5.9" ry="9.6" transform="rotate(30 715 1320.6)" fill="white" stroke="#000" stroke-width="2.2"/>
<path d="M 719,1315.3 Q 716.5,1320.4 719.5,1325.5" fill="none" stroke="#000" stroke-width="1.8"/>
<path d="M 729.2,1365.5 L 746.9,1342.7 Q 748.9,1341.5 766.2,1341.9 Q 772.3,1344.8 771.8,1349.8 L 754.5,1371.1 L 733.2,1370.6 Q 728.7,1369.1 729.2,1365.5 Z" fill="white" stroke="#000" stroke-width="2.6"/>
<path d="M 732.7,1365 L 748.9,1345.3 L 765.2,1344.8" fill="none" stroke="#000" stroke-width="1.9"/>
<path d="M 760.1,1360 Q 761.1,1349.8 755,1349.6 Q 748.9,1350.8 747.7,1358.9 Q 747.9,1366 754.5,1365" fill="none" stroke="#000" stroke-width="2.3"/>
<ellipse cx="738.8" cy="1365.2" rx="1.9" ry="2.8" transform="rotate(30 738.8 1365.2)" fill="none" stroke="#000" stroke-width="1.9"/>
<path d="M 765.2,1348.3 Q 763.1,1350.8 766.2,1351.9 M 766.2,1354.9 L 764.2,1358.9" fill="none" stroke="#000" stroke-width="1.9"/>
<path d="M 755,1358.1 L 764.7,1363.2" fill="none" stroke="#000" stroke-width="2.2"/>
<path d="M 768.2,1356.4 L 782.9,1363.2 Q 789,1367.1 787.5,1376.2 L 777.3,1383.3 L 765.7,1377.4 Q 763.1,1367.1 768.2,1356.4 Z" fill="white" stroke="#000" stroke-width="2.2"/>
<ellipse cx="779.9" cy="1372.9" rx="7.3" ry="11" transform="rotate(30 779.9 1372.9)" fill="white" stroke="#000" stroke-width="2.2"/>
<ellipse cx="779.9" cy="1372.9" rx="3.2" ry="5.6" transform="rotate(30 779.9 1372.9)" fill="none" stroke="#000" stroke-width="2"/>
<path d="M 782.4,1373.3 L 792,1379.2" fill="none" stroke="#000" stroke-width="2.1"/>
<path d="M810.9,1459 L737.7,1500.8 M733,1503.5 L730,1505.2 M723.5,1508.4 L632.8,1559.8 V1587.3" fill="none" stroke="#000" stroke-width="2"/>
<path d="M 626.1,1596.8 Q 626.1,1593.6 632.8,1593.6 Q 639.4,1593.6 639.4,1596.8 L 639.4,1625.4 L 626.1,1625.4 Z" fill="white" stroke="#000" stroke-width="2.1"/>
<path d="M 626.1,1600.6 Q 632.8,1603.3 639.4,1600.6" fill="none" stroke="#000" stroke-width="1.5"/>
<path d="M 626.1,1606.3 Q 632.8,1609 639.4,1606.3" fill="none" stroke="#000" stroke-width="1.5"/>
<path d="M 626.1,1612.1 Q 632.8,1614.7 639.4,1612.1" fill="none" stroke="#000" stroke-width="1.5"/>
<path d="M 626.1,1617.8 Q 632.8,1620.4 639.4,1617.8" fill="none" stroke="#000" stroke-width="1.5"/>
<path d="M 621.7,1628.2 L 622.3,1633.9 Q 632.8,1641.5 643.6,1633.9 L 644.2,1628.2 Z" fill="white" stroke="#000" stroke-width="2.1"/>
<path d="M 628.4,1632.4 L 628.4,1637.7 M 637.9,1632.4 L 637.9,1637.7" fill="none" stroke="#000" stroke-width="1.5"/>
<ellipse cx="632.8" cy="1625.4" rx="12.9" ry="6.1" fill="white" stroke="#000" stroke-width="2.2"/>
<path d="M 626.1,1622.9 Q 632.8,1627.3 639.4,1622.9" fill="none" stroke="#000" stroke-width="1.5"/>
<path d="M 819.7,1698.8 L 819.7,1771.8 A 58.7,30.4 0 0 0 937.1,1771.8 L 937.1,1698.8 Z" fill="white" stroke="#000" stroke-width="2.3"/>
<path d="M 821.1,1769.8 A 57.4,28.4 0 0 0 935.7,1769.8" fill="none" stroke="#000" stroke-width="1.8"/>
<ellipse cx="878.4" cy="1698.8" rx="58.7" ry="30.4" fill="white" stroke="#000" stroke-width="2.3"/>
<ellipse cx="878.4" cy="1699.2" rx="53.1" ry="26.8" fill="none" stroke="#000" stroke-width="2"/>
<ellipse cx="878.4" cy="1700.8" rx="48.3" ry="23.9" fill="none" stroke="#000" stroke-width="1.9"/>
<ellipse cx="878.4" cy="1707.9" rx="41.6" ry="19.9" fill="none" stroke="#000" stroke-width="2.1"/>
<path d="M841.4,1708 L841.4,1716.2" fill="none" stroke="#000" stroke-width="1.5"/>
<path d="M845.4,1704.9 L845.4,1719.2" fill="none" stroke="#000" stroke-width="1.5"/>
<path d="M849.5,1702.8 L849.5,1721.4" fill="none" stroke="#000" stroke-width="1.5"/>
<path d="M853.6,1701.1 L853.6,1723.1" fill="none" stroke="#000" stroke-width="1.5"/>
<path d="M857.6,1699.8 L857.6,1724.3" fill="none" stroke="#000" stroke-width="1.5"/>
<path d="M861.7,1698.9 L861.7,1725.3" fill="none" stroke="#000" stroke-width="1.5"/>
<path d="M865.7,1698.1 L865.7,1726.1" fill="none" stroke="#000" stroke-width="1.5"/>
<path d="M869.8,1697.6 L869.8,1726.6" fill="none" stroke="#000" stroke-width="1.5"/>
<path d="M873.8,1697.3 L873.8,1726.9" fill="none" stroke="#000" stroke-width="1.5"/>
<path d="M877.9,1697.2 L877.9,1727" fill="none" stroke="#000" stroke-width="1.5"/>
<path d="M882,1697.3 L882,1726.9" fill="none" stroke="#000" stroke-width="1.5"/>
<path d="M886,1697.5 L886,1726.7" fill="none" stroke="#000" stroke-width="1.5"/>
<path d="M890.1,1698 L890.1,1726.2" fill="none" stroke="#000" stroke-width="1.5"/>
<path d="M894.1,1698.7 L894.1,1725.5" fill="none" stroke="#000" stroke-width="1.5"/>
<path d="M898.2,1699.6 L898.2,1724.6" fill="none" stroke="#000" stroke-width="1.5"/>
<path d="M902.2,1700.8 L902.2,1723.4" fill="none" stroke="#000" stroke-width="1.5"/>
<path d="M906.3,1702.3 L906.3,1721.9" fill="none" stroke="#000" stroke-width="1.5"/>
<path d="M910.3,1704.3 L910.3,1719.8" fill="none" stroke="#000" stroke-width="1.5"/>
<path d="M914.4,1707.1 L914.4,1717.1" fill="none" stroke="#000" stroke-width="1.5"/>
<path d="M 837.3,1706.9 A 41.6,19.9 0 0 1 919.5,1706.9" fill="none" stroke="#000" stroke-width="1.8"/>
<ellipse cx="920.5" cy="1756.4" rx="4.9" ry="6.1" transform="rotate(20 920.5 1756.4)" fill="none" stroke="#000" stroke-width="1.9"/>
<path d="M 916.8,1757.6 L 924.1,1754.8 M 919.7,1751.1 L 921.5,1761.7" fill="none" stroke="#000" stroke-width="1.4"/>
<path d="M 861.3,1820.9 L 861.3,1829.6 A 17.2,9.1 0 0 0 895.7,1829.6 L 895.7,1820.9 Z" fill="white" stroke="#000" stroke-width="2.2"/>
<ellipse cx="878.5" cy="1820.9" rx="17.2" ry="9.1" fill="white" stroke="#000" stroke-width="2.2"/>
<ellipse cx="878.5" cy="1820.9" rx="11.8" ry="6.1" fill="none" stroke="#000" stroke-width="1.8"/>
<ellipse cx="878.5" cy="1821.1" rx="7.7" ry="3.9" fill="none" stroke="#000" stroke-width="1.8"/>
<ellipse cx="878.5" cy="1821.5" rx="4.1" ry="2" fill="none" stroke="#000" stroke-width="1.7"/>
<path d="M878.5,1812.4 L878.5,1816.8" fill="none" stroke="#000" stroke-width="2.6"/>
<path d="M 839.4,1915.8 L 839.4,1962.4 Q 845.4,1976.6 869.8,1980.7 L 871.8,1984.7 Q 878.5,1989.8 885.2,1984.7 L 887,1980.7 Q 912.4,1976.6 917.4,1962.4 L 917.4,1915.8 Z" fill="white" stroke="#000" stroke-width="2.3"/>
<path d="M 839.4,1962.4 A 38.9,15.2 0 0 0 917.4,1962.4 M 839.4,1956.3 A 38.9,15.2 0 0 0 917.4,1956.3" fill="none" stroke="#000" stroke-width="1.8"/>
<path d="M849.5,1935.7 L849.5,1966.5" fill="none" stroke="#000" stroke-width="2"/>
<path d="M851.9,1935.7 L851.9,1966.5" fill="none" stroke="#000" stroke-width="1.4"/>
<path d="M864.1,1940 L864.1,1970.5" fill="none" stroke="#000" stroke-width="2"/>
<path d="M866.5,1940 L866.5,1970.5" fill="none" stroke="#000" stroke-width="1.4"/>
<path d="M882,1941.1 L882,1971.5" fill="none" stroke="#000" stroke-width="2"/>
<path d="M884.4,1941.1 L884.4,1971.5" fill="none" stroke="#000" stroke-width="1.4"/>
<path d="M900.2,1938.4 L900.2,1969" fill="none" stroke="#000" stroke-width="2"/>
<path d="M902.6,1938.4 L902.6,1969" fill="none" stroke="#000" stroke-width="1.4"/>
<path d="M912.4,1932.9 L912.4,1963.9" fill="none" stroke="#000" stroke-width="2"/>
<path d="M914.8,1932.9 L914.8,1963.9" fill="none" stroke="#000" stroke-width="1.4"/>
<path d="M 839.4,1915.8 Q 841.4,1893.5 861.7,1886.4 L 896.1,1886.4 Q 915.4,1893.5 917.4,1915.8 Z" fill="white" stroke="none" stroke-width="1.7"/>
<path d="M 839.4,1915.8 Q 841.4,1893.5 861.7,1886.4 L 896.1,1886.4 Q 915.4,1893.5 917.4,1915.8" fill="none" stroke="#000" stroke-width="2.3"/>
<path d="M 839.4,1915.8 A 38.9,17.2 0 0 0 917.4,1915.8 M 839.4,1924.9 A 38.9,16.2 0 0 0 917.4,1924.9 M 842.4,1907.7 A 36.5,16.2 0 0 0 914.8,1907.7" fill="none" stroke="#000" stroke-width="1.9"/>
<path d="M 860.7,1865.1 L 860.7,1898.6 A 17.8,8.1 0 0 0 896.3,1898.6 L 896.3,1865.1 Z" fill="white" stroke="#000" stroke-width="2.2"/>
<path d="M 860.7,1875.2 A 17.8,8.1 0 0 0 896.3,1875.2 M 860.7,1880.3 A 17.8,8.1 0 0 0 896.3,1880.3 M 860.7,1894.5 A 17.8,8.1 0 0 0 896.3,1894.5" fill="none" stroke="#000" stroke-width="1.8"/>
<path d="M865.7,1886 L865.7,1900.2" fill="none" stroke="#000" stroke-width="1.5"/>
<path d="M871.4,1887.7 L871.4,1901.9" fill="none" stroke="#000" stroke-width="1.5"/>
<path d="M877.1,1888.4 L877.1,1902.6" fill="none" stroke="#000" stroke-width="1.5"/>
<path d="M882.8,1888.2 L882.8,1902.4" fill="none" stroke="#000" stroke-width="1.5"/>
<path d="M888.4,1887 L888.4,1901.2" fill="none" stroke="#000" stroke-width="1.5"/>
<path d="M893.1,1885 L893.1,1899.2" fill="none" stroke="#000" stroke-width="1.5"/>
<ellipse cx="878.5" cy="1865.1" rx="17.8" ry="8.1" fill="white" stroke="#000" stroke-width="2.2"/>
<path d="M 872.8,1844.8 Q 872.8,1841.8 878.5,1841.8 Q 884.4,1841.8 884.4,1844.8 L 884.4,1867.1 A 6.1,2.8 0 0 1 872.8,1867.1 Z" fill="white" stroke="#000" stroke-width="2.2"/>
<path d="M 871.4,1860 L 871.4,1868.1 A 7.3,3.2 0 0 0 886,1868.1 L 886,1860 M 872.8,1850.9 L 884.4,1850.9" fill="none" stroke="#000" stroke-width="1.9"/>
<ellipse cx="878.2" cy="1649.4" rx="57.3" ry="30.8" fill="none" stroke="#000" stroke-width="4.6"/>
<ellipse cx="878.5" cy="1622" rx="52.1" ry="29.7" fill="white" stroke="#000" stroke-width="2.7"/>
<ellipse cx="878.5" cy="1620.4" rx="48.1" ry="26.4" fill="none" stroke="#000" stroke-width="2.3"/>
<ellipse cx="878.5" cy="1619.4" rx="43.2" ry="22.7" fill="none" stroke="#000" stroke-width="2.1"/>
<path d="M 835.7,1628.3 A 43.7,23.1 0 0 0 921.4,1628.3" fill="none" stroke="#000" stroke-width="2"/>
<path d="M 793.2,1633.2 Q 815.9,1601.9 843.9,1587.9" fill="none" stroke="#000" stroke-width="4.2"/>
<path d="M 793.2,1633.2 Q 815.9,1601.9 843.9,1587.9" fill="none" stroke="#fff" stroke-width="1.5"/>
<path d="M 791.2,1643.1 L 859.6,1605.2 L 859.6,1616.8 L 792,1643.9" fill="none" stroke="#000" stroke-width="2.3"/>
<path d="M 842.3,1616.8 L 842.3,1629.1 L 855.4,1638.2 L 855.4,1625 L 868.6,1617.6 L 868.6,1606.9 L 857.9,1603.6 Z" fill="white" stroke="#000" stroke-width="2.5"/>
<path d="M 855.4,1625 L 844.7,1618.1 M 868.6,1617.6 L 860.4,1613.1 M 848.9,1620.1 L 848.9,1632.4" fill="none" stroke="#000" stroke-width="1.9"/>
<path d="M 886.8,1621.7 L 898.3,1637.4 L 914.8,1627.5 L 914.8,1615.1 L 903.2,1608.5 L 890.1,1614.3 Z" fill="white" stroke="#000" stroke-width="2.5"/>
<path d="M 898.3,1637.4 L 898.3,1625 L 914.8,1615.1 M 898.3,1625 L 888.4,1617.6" fill="none" stroke="#000" stroke-width="1.9"/>
<path d="M 865.3,1622.5 L 872.8,1629.1 L 884.3,1629.1 L 890.1,1623.3" fill="none" stroke="#000" stroke-width="2.1"/>
<path d="M 844.7,1583 L 844.7,1601.9 L 857.1,1610.2 L 857.1,1592 L 865.3,1587.9 L 865.3,1585.4 L 855.4,1577.5 Z" fill="white" stroke="#000" stroke-width="2.5"/>
<path d="M 848.9,1585.4 Q 855.4,1587.1 857.1,1592 M 852.2,1580.5 L 852.2,1587.1 M 858.7,1585.4 L 858.7,1611.8 M 863.7,1588.7 L 863.7,1610.2" fill="none" stroke="#000" stroke-width="2"/>
<path d="M 895,1578.9 L 895,1611.8 M 895,1578.9 L 916.4,1565.7 M 899.1,1585.4 Q 898.3,1578.9 903.2,1578.9 Q 908.2,1580.5 905.7,1588.7 L 899.1,1593.7 Z M 899.1,1585.4 L 899.1,1606.9" fill="none" stroke="#000" stroke-width="2.3"/>
<path d="M 912.3,1578.9 L 916.4,1585.4 L 921.4,1583.8 M 913.1,1588.7 L 923,1587.1" fill="none" stroke="#000" stroke-width="2"/>
<path d="M 872.8,1545.9 L 872.8,1621.7 L 884.3,1621.7 L 884.3,1554.1 Z" fill="white" stroke="#000" stroke-width="2.5"/>
<path d="M 878.5,1572.3 L 878.5,1578.9 M 878.5,1587.9 L 878.5,1593.7 M 878.5,1603.6 L 878.5,1611.8 M 866.2,1576.4 L 869.5,1575.6 M 866.2,1579.7 L 869.5,1578.9" fill="none" stroke="#000" stroke-width="2.1"/>
<path d="M 872.8,1545.9 L 865.3,1539.3 L 810.1,1512.1 L 810.1,1487.4 L 816.7,1489.1" fill="none" stroke="#000" stroke-width="2.3"/>
<path d="M 884.3,1554.1 L 904.9,1567.3 L 951.8,1593.7 L 951.8,1569 L 944.4,1564.9" fill="none" stroke="#000" stroke-width="2.3"/>
<path d="M 865.3,1539.3 Q 876.9,1535.2 893.3,1545.9 L 914.8,1562.4 M 884.3,1606.9 L 895,1611.8 M 888.4,1573.9 L 898.3,1572.3" fill="none" stroke="#000" stroke-width="2.2"/>
<path d="M 783,1617.6 Q 783,1597.8 790.4,1597.3 Q 798.1,1597.8 799.4,1612.6" fill="none" stroke="#000" stroke-width="4.6"/>
<path d="M 783,1617.6 Q 783,1597.8 790.4,1597.3 Q 798.1,1597.8 799.4,1612.6" fill="none" stroke="#fff" stroke-width="1.6"/>
<path d="M 780.5,1615.4 L 797.8,1608.8 L 801.4,1611.8 L 801.4,1622 L 784.9,1628.6 L 780.5,1625 Z" fill="white" stroke="#000" stroke-width="2.5"/>
<path d="M 784.9,1628.6 L 784.9,1618.7 L 801.4,1611.8 M 784.9,1618.7 L 780.5,1615.4" fill="none" stroke="#000" stroke-width="1.9"/>
<path d="M 782.6,1627.5 L 785.4,1651.4 M 789.5,1627 L 789.9,1651.4" fill="none" stroke="#000" stroke-width="2.3"/>
<ellipse cx="778" cy="1665.9" rx="8.2" ry="4.6" fill="white" stroke="#000" stroke-width="2.7"/>
<ellipse cx="778" cy="1664.9" rx="7.6" ry="4.1" fill="white" stroke="#000" stroke-width="2.3"/>
<ellipse cx="778" cy="1664.5" rx="3.3" ry="1.6" fill="none" stroke="#000" stroke-width="1.8"/>
<ellipse cx="785.9" cy="1657.1" rx="5.9" ry="3.3" fill="white" stroke="#000" stroke-width="2.5"/>
<ellipse cx="785.9" cy="1653.8" rx="5.3" ry="2.8" fill="white" stroke="#000" stroke-width="2.3"/>
<ellipse cx="757.4" cy="1636.5" rx="2.1" ry="5.6" transform="rotate(-25 757.4 1636.5)" fill="white" stroke="#000" stroke-width="2.6"/>
<ellipse cx="762" cy="1634.6" rx="2.1" ry="5.6" transform="rotate(-25 762 1634.6)" fill="white" stroke="#000" stroke-width="2.6"/>
<ellipse cx="766.6" cy="1632.6" rx="2.1" ry="5.6" transform="rotate(-25 766.6 1632.6)" fill="white" stroke="#000" stroke-width="2.6"/>
<ellipse cx="771.3" cy="1630.6" rx="2.1" ry="5.6" transform="rotate(-25 771.3 1630.6)" fill="white" stroke="#000" stroke-width="2.6"/>
<ellipse cx="826.1" cy="1494.8" rx="2.1" ry="5.9" transform="rotate(25 826.1 1494.8)" fill="white" stroke="#000" stroke-width="2.6"/>
<ellipse cx="830.7" cy="1496.8" rx="2.1" ry="5.9" transform="rotate(25 830.7 1496.8)" fill="white" stroke="#000" stroke-width="2.6"/>
<ellipse cx="835.3" cy="1498.8" rx="2.1" ry="5.9" transform="rotate(25 835.3 1498.8)" fill="white" stroke="#000" stroke-width="2.6"/>
<ellipse cx="840" cy="1500.8" rx="2.1" ry="5.9" transform="rotate(25 840 1500.8)" fill="white" stroke="#000" stroke-width="2.6"/>
<ellipse cx="924.7" cy="1555" rx="2.1" ry="6.3" transform="rotate(25 924.7 1555)" fill="white" stroke="#000" stroke-width="2.6"/>
<ellipse cx="929.3" cy="1557.3" rx="2.1" ry="6.3" transform="rotate(25 929.3 1557.3)" fill="white" stroke="#000" stroke-width="2.6"/>
<ellipse cx="933.9" cy="1559.6" rx="2.1" ry="6.3" transform="rotate(25 933.9 1559.6)" fill="white" stroke="#000" stroke-width="2.6"/>
<ellipse cx="938.5" cy="1561.9" rx="2.1" ry="6.3" transform="rotate(25 938.5 1561.9)" fill="white" stroke="#000" stroke-width="2.6"/>
<ellipse cx="988.1" cy="1498.1" rx="2.1" ry="5.9" transform="rotate(-25 988.1 1498.1)" fill="white" stroke="#000" stroke-width="2.6"/>
<ellipse cx="992.7" cy="1496.1" rx="2.1" ry="5.9" transform="rotate(-25 992.7 1496.1)" fill="white" stroke="#000" stroke-width="2.6"/>
<ellipse cx="997.3" cy="1494.2" rx="2.1" ry="5.9" transform="rotate(-25 997.3 1494.2)" fill="white" stroke="#000" stroke-width="2.6"/>
<ellipse cx="1001.9" cy="1492.2" rx="2.1" ry="5.9" transform="rotate(-25 1001.9 1492.2)" fill="white" stroke="#000" stroke-width="2.6"/>
<path d="M 863.7,1513.8 Q 863.7,1501.4 871.1,1501.4 Q 879.3,1503.1 875.2,1517.1 L 860.7,1538" fill="none" stroke="#000" stroke-width="4.6"/>
<path d="M 863.7,1513.8 Q 863.7,1501.4 871.1,1501.4 Q 879.3,1503.1 875.2,1517.1 L 860.7,1538" fill="none" stroke="#fff" stroke-width="1.6"/>
<path d="M 844.7,1504.7 L 855.4,1503.1 L 864,1514.6 L 864,1524.8 L 855.4,1522.5 L 844.7,1515.6 Z" fill="white" stroke="#000" stroke-width="2.5"/>
<path d="M 855.4,1503.1 L 855.4,1522.5" fill="none" stroke="#000" stroke-width="1.8"/>
<ellipse cx="845.9" cy="1562.4" rx="7.9" ry="4.6" fill="white" stroke="#000" stroke-width="2.8"/>
<ellipse cx="845.9" cy="1561.1" rx="7.2" ry="4.1" fill="white" stroke="#000" stroke-width="2.5"/>
<ellipse cx="845.9" cy="1560.7" rx="3" ry="1.5" fill="none" stroke="#000" stroke-width="1.9"/>
<ellipse cx="857.4" cy="1554.5" rx="5.6" ry="3.1" fill="white" stroke="#000" stroke-width="2.5"/>
<path d="M 854.6,1548.4 Q 857.4,1545.9 860.4,1548.4 L 860.4,1553.8 M 854.6,1548.4 L 854.6,1553.8" fill="none" stroke="#000" stroke-width="2.1"/>
<path d="M 901.3,1541.3 Q 902.4,1520.9 910.6,1520.4 Q 918.9,1521.2 918.1,1539.6" fill="none" stroke="#000" stroke-width="4.6"/>
<path d="M 901.3,1541.3 Q 902.4,1520.9 910.6,1520.4 Q 918.9,1521.2 918.1,1539.6" fill="none" stroke="#fff" stroke-width="1.6"/>
<path d="M 898.3,1539.6 L 914.8,1534.4 L 918.4,1537.7 L 918.4,1550 L 913.9,1557.4 L 898.3,1547.6 Z" fill="white" stroke="#000" stroke-width="2.5"/>
<path d="M 913.9,1557.4 L 913.9,1545.1 L 918.4,1537.7 M 913.9,1545.1 L 898.3,1539.6" fill="none" stroke="#000" stroke-width="1.8"/>
<path d="M 907.4,1552.5 L 910.6,1562.4 M 914.8,1557.4 L 916.4,1565.7" fill="none" stroke="#000" stroke-width="2.1"/>
<path d="M 954.8,1510.5 Q 956,1486.9 964.2,1486.6 Q 972.4,1487.9 972.8,1505" fill="none" stroke="#000" stroke-width="4.6"/>
<path d="M 954.8,1510.5 Q 956,1486.9 964.2,1486.6 Q 972.4,1487.9 972.8,1505" fill="none" stroke="#fff" stroke-width="1.6"/>
<path d="M 952.7,1511.6 L 971.6,1504.7 L 975.1,1508 L 975.1,1515.8 L 956.3,1523.2 L 952.7,1519.9 Z" fill="white" stroke="#000" stroke-width="2.5"/>
<path d="M 956.3,1523.2 L 956.3,1514.9 L 975.1,1508 M 956.3,1514.9 L 952.7,1511.6" fill="none" stroke="#000" stroke-width="1.9"/>
<path d="M 965.8,1519.9 L 965.8,1534.4 M 971.6,1517.9 L 971.6,1536.3 L 936.2,1554.5" fill="none" stroke="#000" stroke-width="2.3"/>
<path d="M 997.1,1503.1 L 997.1,1561.9 L 942,1559.4" fill="none" stroke="#000" stroke-width="2.3"/>
<ellipse cx="970" cy="1570.6" rx="9.2" ry="4.9" fill="white" stroke="#000" stroke-width="2.7"/>
<ellipse cx="970" cy="1569" rx="8.2" ry="4.3" fill="white" stroke="#000" stroke-width="2.3"/>
<ellipse cx="970" cy="1568.6" rx="3" ry="1.5" fill="none" stroke="#000" stroke-width="1.8"/>
<path d="M 956,1557.4 L 964.2,1562.4 M 960.1,1545.9 Q 964.2,1552.5 960.9,1557.4 M 965.8,1545.1 Q 962.5,1552.5 967.5,1557.4" fill="none" stroke="#000" stroke-width="2"/>
<ellipse cx="927.1" cy="1595.3" rx="9.2" ry="4.9" fill="white" stroke="#000" stroke-width="2.7"/>
<ellipse cx="927.1" cy="1593.7" rx="8.2" ry="4.3" fill="white" stroke="#000" stroke-width="2.3"/>
<ellipse cx="927.1" cy="1593.4" rx="3" ry="1.5" fill="none" stroke="#000" stroke-width="1.8"/>
<path d="M 913.1,1585.4 L 921.4,1590.4 M 916.4,1582.2 L 924.7,1585.4" fill="none" stroke="#000" stroke-width="2"/>
<path d="M 820.6,1441.1 L 820.6,1467.7 A 58,29.8 0 0 0 936.7,1467.7 L 936.7,1441.1 Z" fill="white" stroke="#000" stroke-width="2.2"/>
<path d="M 800.9,1425.9 Q 800.3,1422.1 805.3,1419.6 L 810.4,1413.2 L 824.4,1409.7 L 854.8,1389.8 L 868.7,1382.8 L 876.3,1379.6 L 887.7,1379.6 L 958.7,1422.1 Q 960,1425.9 958.7,1429.1 L 958.7,1437.3 L 950.5,1442.4 L 950.5,1456.3 Q 944.8,1460.1 938.4,1457.6 L 938.4,1450.6 L 905.5,1469 L 904.8,1481.7 Q 897.9,1485.5 891.5,1481.7 L 890.3,1477.2 L 881.4,1480.4 Q 876.3,1480.4 873.8,1478.5 L 800.9,1434.8 Z" fill="white" stroke="#000" stroke-width="2.3"/>
<path d="M 800.9,1427.8 L 872.5,1470.5 Q 876.3,1473.1 881.4,1472.2 L 889,1469 L 939.1,1441.1 L 949.8,1437.3 L 958.7,1429.1" fill="none" stroke="#000" stroke-width="2"/>
<path d="M 891.5,1467.7 L 891.5,1481.7 M 904.8,1463.9 L 904.8,1481.7 M 891.5,1467.7 Q 897.9,1470.3 904.8,1467.1 M 950.5,1437.3 L 950.5,1442.4" fill="none" stroke="#000" stroke-width="1.9"/>
<path d="M 867.5,1383.8 L 875.1,1380 M 868.7,1387.2 Q 878.9,1384.1 889,1387.2 M 854.8,1389.8 Q 856,1387.2 861.1,1386" fill="none" stroke="#000" stroke-width="1.8"/>
<ellipse cx="818.7" cy="1416.1" rx="3.5" ry="1.9" fill="none" stroke="#000" stroke-width="1.9"/>
<ellipse cx="809.8" cy="1425.5" rx="4.4" ry="2.5" fill="none" stroke="#000" stroke-width="1.9"/>
<ellipse cx="949.8" cy="1425.5" rx="4.4" ry="2.5" fill="none" stroke="#000" stroke-width="1.9"/>
<ellipse cx="942.9" cy="1436.7" rx="3.2" ry="1.9" fill="none" stroke="#000" stroke-width="1.9"/>
<ellipse cx="880.1" cy="1465.4" rx="4.4" ry="2.5" fill="none" stroke="#000" stroke-width="1.9"/>
<ellipse cx="897.9" cy="1462" rx="3.5" ry="1.9" fill="none" stroke="#000" stroke-width="1.9"/>
<ellipse cx="878.9" cy="1420.8" rx="52.6" ry="29.9" fill="none" stroke="#000" stroke-width="2.2"/>
<path d="M 828.8,1431 A 50.7,28.5 0 0 0 928.9,1431" fill="none" stroke="#000" stroke-width="1.9"/>
<path d="M 840.8,1413.2 L 840.8,1419.6 A 38,21.5 0 0 0 916.9,1419.6 L 916.9,1413.2" fill="none" stroke="#000" stroke-width="2.1"/>
<ellipse cx="878.9" cy="1413.2" rx="38" ry="21.5" fill="white" stroke="#000" stroke-width="2.2"/>
<ellipse cx="878.9" cy="1411.3" rx="32.3" ry="18" fill="none" stroke="#000" stroke-width="2.1"/>
<path d="M 849.1,1413.2 A 30.4,15.8 0 0 1 908,1410.7 M 851,1423.4 A 29.8,15.2 0 0 0 906.7,1423.4 M 856,1427.2 A 25.3,11.4 0 0 0 901.7,1427.2" fill="none" stroke="#000" stroke-width="1.9"/>
<ellipse cx="878.9" cy="1419.6" rx="13.3" ry="7.6" fill="white" stroke="#000" stroke-width="2.1"/>
<path d="M 865.6,1419.6 L 865.6,1422.7 A 13.3,7.6 0 0 0 892.2,1422.7 L 892.2,1419.6" fill="none" stroke="#000" stroke-width="1.9"/>
<ellipse cx="878.9" cy="1420.8" rx="9.1" ry="4.8" fill="none" stroke="#000" stroke-width="2"/>
<ellipse cx="878.9" cy="1423.4" rx="6.1" ry="2.8" fill="none" stroke="#000" stroke-width="1.8"/>
<path d="M 810.4,1448.7 L 810.4,1460.1 L 780,1476.6" fill="none" stroke="#000" stroke-width="2"/>
<path d="M 771.3,2009 L 771.3,2080 M 771.3,2087.6 L 771.3,2090.1 M 771.3,2097.7 L 771.3,2158.6 L 818.8,2183.9 L 818.8,2150.3" fill="none" stroke="#000" stroke-width="2.3"/>
<path d="M 787.7,2118.6 Q 789,2112.3 801.7,2112.3 L 820.7,2112.3 L 820.1,2140.2 L 811.8,2140.2 L 806.8,2155.4 L 787.7,2147.2 Z" fill="white" stroke="#000" stroke-width="2.3"/>
<path d="M 787.7,2121.8 Q 792.8,2128.1 806.8,2128.1 L 819.4,2129.4 M 806.8,2142.1 L 806.8,2155.4 M 806.8,2142.1 L 813.1,2140.2" fill="none" stroke="#000" stroke-width="1.9"/>
<ellipse cx="799.8" cy="2120.3" rx="12" ry="6.6" fill="none" stroke="#000" stroke-width="2.1"/>
<ellipse cx="799.8" cy="2120.5" rx="5.7" ry="3.2" fill="none" stroke="#000" stroke-width="2"/>
<path d="M 936,2090.8 L 945.5,2097.7 L 945.5,2128.1 M 931,2097.7 Q 934.8,2095.2 937.3,2100.3" fill="none" stroke="#000" stroke-width="2.1"/>
<path d="M 933.5,2149.7 L 931,2154.8 Q 938.6,2166.2 947.4,2159.8 L 948.5,2137.7 Q 946.2,2133.2 939.8,2134.5" fill="white" stroke="#000" stroke-width="2.2"/>
<ellipse cx="941.1" cy="2139.3" rx="4.3" ry="3" fill="none" stroke="#000" stroke-width="1.9"/>
<path d="M 818.8,2124.3 L 819.4,2140.8 Q 833.4,2161.1 879,2170 L 913.2,2163.6 Q 934.8,2153.5 941.7,2129.4 L 941.7,2124.3 Z" fill="white" stroke="#000" stroke-width="2.2"/>
<path d="M 877.7,2164.9 L 873.9,2172.5 L 884.1,2182.6 L 884.1,2200.4 Q 896.7,2215.6 912,2205.5 L 912,2159.8 Z" fill="white" stroke="#000" stroke-width="2.3"/>
<path d="M 880.3,2165.5 L 889.1,2176.3 M 891.7,2164.9 L 898,2163.9 L 898,2166.8" fill="none" stroke="#000" stroke-width="1.8"/>
<ellipse cx="900.5" cy="2180.7" rx="12" ry="7.4" fill="none" stroke="#000" stroke-width="2.2"/>
<ellipse cx="900.5" cy="2181.1" rx="6.1" ry="3.7" fill="none" stroke="#000" stroke-width="2.1"/>
<ellipse cx="880.3" cy="2124" rx="62.1" ry="35.9" fill="white" stroke="#000" stroke-width="2.5"/>
<ellipse cx="880.3" cy="2123.1" rx="56.4" ry="32.3" fill="none" stroke="#000" stroke-width="2.1"/>
<path d="M 844.8,2093.3 Q 880.3,2083.2 915.8,2093.3 M 849.8,2096.5 Q 880.3,2088.2 910.7,2096.5 M 861.3,2099 Q 880.3,2095.2 899.3,2099" fill="none" stroke="#000" stroke-width="2"/>
<path d="M 825.8,2121.8 Q 829.6,2111.7 844.1,2105.3 M 915.8,2105.3 Q 931,2111.7 934.8,2123.1 M 829.6,2135.8 Q 833.4,2145.9 844.8,2152.2 M 853.7,2155.4 Q 880.3,2161.1 906.9,2154.8" fill="none" stroke="#000" stroke-width="2"/>
<path d="M 852.4,2114.8 L 866.3,2122.4 M 851.1,2116.7 L 858.7,2121.2 L 863.2,2129.4 M 906.2,2114.8 L 894.8,2121.2 M 907.5,2116.7 L 899.9,2121.2 L 896.7,2128.8 M 852.4,2147.2 L 864.4,2132.6 M 857.5,2146.5 L 870.1,2135.8 M 906.9,2144 L 894.8,2132.6 M 901.8,2145.3 L 891,2135.8" fill="none" stroke="#000" stroke-width="2.3"/>
<ellipse cx="880.3" cy="2125.6" rx="13.9" ry="8.2" fill="white" stroke="#000" stroke-width="2.2"/>
<path d="M 870.1,2134.5 Q 880.3,2140.8 891,2134.5 M 871.4,2130.7 Q 880.3,2135.8 889.8,2130.7" fill="none" stroke="#000" stroke-width="1.9"/>
<path d="M 852.4,2045.8 Q 824.5,2055.9 824.2,2076.2 Q 825.8,2107.9 880.3,2108.5 Q 936,2107.2 936,2073.7 Q 934.8,2062.2 926.5,2056.5" fill="none" stroke="#000" stroke-width="4.4"/>
<path d="M 863.8,2028 Q 863.8,2025.5 867.6,2025.5 L 889.1,2024.9 Q 893.6,2026.1 892.9,2031.8 L 893.6,2040.1 Q 889.1,2042 884.1,2040.7 L 875.2,2041.3 L 871.4,2044.5 Q 866.3,2045.1 864.4,2040.7 Z" fill="white" stroke="#000" stroke-width="2.3"/>
<path d="M 873.3,2030.6 L 884.1,2030.6 L 884.1,2036.3 L 873.3,2036.3 Z M 875.2,2033.5 L 882.2,2033.5 M 867.6,2033.7 L 870.1,2033.7 M 886.6,2031.8 L 889.8,2031.8" fill="none" stroke="#000" stroke-width="1.9"/>
<path d="M 863.8,2051.5 Q 863.8,2048.9 867.6,2048.9 L 889.1,2048.3 Q 893.6,2049.6 892.9,2055.3 L 893.6,2063.5 Q 889.1,2065.4 884.1,2064.1 L 875.2,2064.8 L 871.4,2067.9 Q 866.3,2068.6 864.4,2064.1 Z" fill="white" stroke="#000" stroke-width="2.3"/>
<path d="M 873.3,2054 L 884.1,2054 L 884.1,2059.7 L 873.3,2059.7 Z M 875.2,2056.9 L 882.2,2056.9 M 867.6,2057.2 L 870.1,2057.2 M 886.6,2055.3 L 889.8,2055.3" fill="none" stroke="#000" stroke-width="1.9"/>
<path d="M 861.5,2002.7 L 861.5,2010.9 A 16.9,8.6 0 0 0 895.2,2010.9 L 895.2,2002.7 Z" fill="white" stroke="#000" stroke-width="2.2"/>
<ellipse cx="878.4" cy="2002.7" rx="16.9" ry="8.6" fill="white" stroke="#000" stroke-width="2.2"/>
<ellipse cx="878.4" cy="2002.7" rx="12" ry="6.1" fill="none" stroke="#000" stroke-width="1.8"/>
<ellipse cx="878.4" cy="2002.7" rx="8.2" ry="4.2" fill="none" stroke="#000" stroke-width="1.9"/>
<ellipse cx="878.4" cy="2003.1" rx="4.4" ry="2.3" fill="none" stroke="#000" stroke-width="2.1"/>
<path d="M 739.8,2045.6 L 739.8,1989.9 L 771.2,2008.5 L 771.2,2085.5 M 771.2,2089.8 L 771.2,2091.7" fill="none" stroke="#000" stroke-width="2.1"/>
<path d="M 735.5,2054.1 Q 735.5,2050.7 739.8,2050.7 Q 744.1,2050.7 744.1,2054.1 L 744.1,2174.4 L 735.5,2174.4 Z" fill="white" stroke="#000" stroke-width="2.1"/>
<path d="M 735.5,2055.5 Q 739.8,2057.2 744.1,2055.5" fill="none" stroke="#000" stroke-width="1.4"/>
<path d="M 735.5,2059.8 Q 739.8,2061.5 744.1,2059.8" fill="none" stroke="#000" stroke-width="1.4"/>
<path d="M 735.5,2064.1 Q 739.8,2065.8 744.1,2064.1" fill="none" stroke="#000" stroke-width="1.4"/>
<path d="M 735.5,2068.4 Q 739.8,2070.1 744.1,2068.4" fill="none" stroke="#000" stroke-width="1.4"/>
<path d="M 735.5,2072.6 Q 739.8,2074.4 744.1,2072.6" fill="none" stroke="#000" stroke-width="1.4"/>
<path d="M 735.5,2076.9 Q 739.8,2078.6 744.1,2076.9" fill="none" stroke="#000" stroke-width="1.4"/>
<path d="M 731.8,2177.3 L 731.8,2183 L 737,2186.7 L 744.1,2186.7 L 748.4,2183 L 748.4,2177.3 Q 739.8,2172.5 731.8,2177.3 Z" fill="white" stroke="#000" stroke-width="2.1"/>
<path d="M 737,2179.6 L 737,2186.7 M 744.1,2179.6 L 744.1,2186.7" fill="none" stroke="#000" stroke-width="1.4"/>
<path d="M896.7,2002.8 L986.5,1972.8" fill="none" stroke="#000" stroke-width="2"/>
<path d="M893.8,2034.7 L983.6,2034.7" fill="none" stroke="#000" stroke-width="2"/>
<path d="M893.8,2058.4 L983.6,2034.7" fill="none" stroke="#000" stroke-width="2"/>
<path d="M938,2076.9 L986.5,2084" fill="none" stroke="#000" stroke-width="2"/>
<path d="M708.4,2100.6 L735.5,2099.2" fill="none" stroke="#000" stroke-width="2"/>
<g transform="translate(1003.5,422) scale(1.29,1)" font-size="28"><text x="0" y="0" style="stroke:#000;stroke-width:0.45">2</text></g>
<g transform="translate(1003.5,475) scale(1.29,1)" font-size="28"><text x="0" y="0" style="stroke:#000;stroke-width:0.45">3</text></g>
<g transform="translate(747.7,479) scale(1.29,1)" font-size="28"><text x="0" y="0" style="stroke:#000;stroke-width:0.45">5</text></g>
<g transform="translate(1003.5,523) scale(1.29,1)" font-size="28"><text x="0" y="0" style="stroke:#000;stroke-width:0.45">4</text></g>
<g transform="translate(997.2,592) scale(1.29,1)" font-size="28"><text x="0" y="0" style="stroke:#000;stroke-width:0.45">4</text><text x="15.6" y="0" style="stroke:#000;stroke-width:0.45">5</text></g>
<g transform="translate(950.9,637) scale(1.29,1)" font-size="28"><path d="M8.4,0 L8.4,-14.1 L2.9,-14.1 L2.9,-15.8 Q7.6,-16 9.1,-20 L10.8,-20 L10.8,0 Z" fill="#000" stroke="#000" stroke-width="0.45"/><text x="15.6" y="0" style="stroke:#000;stroke-width:0.45">9</text></g>
<g transform="translate(949.9,678.6) scale(1.29,1)" font-size="28"><text x="0" y="0" style="stroke:#000;stroke-width:0.45">2</text><text x="15.6" y="0" style="stroke:#000;stroke-width:0.45">2</text></g>
<g transform="translate(949.9,718) scale(1.29,1)" font-size="28"><text x="0" y="0" style="stroke:#000;stroke-width:0.45">6</text><text x="15.6" y="0" style="stroke:#000;stroke-width:0.45">0</text></g>
<g transform="translate(947.9,766) scale(1.29,1)" font-size="28"><text x="0" y="0" style="stroke:#000;stroke-width:0.45">2</text><text x="15.6" y="0" style="stroke:#000;stroke-width:0.45">3</text></g>
<g transform="translate(949.9,814) scale(1.29,1)" font-size="28"><text x="0" y="0" style="stroke:#000;stroke-width:0.45">2</text><text x="15.6" y="0" style="stroke:#000;stroke-width:0.45">4</text></g>
<g transform="translate(949.9,848.4) scale(1.29,1)" font-size="28"><text x="0" y="0" style="stroke:#000;stroke-width:0.45">2</text><text x="15.6" y="0" style="stroke:#000;stroke-width:0.45">5</text></g>
<g transform="translate(949.9,885) scale(1.29,1)" font-size="28"><text x="0" y="0" style="stroke:#000;stroke-width:0.45">2</text><text x="15.6" y="0" style="stroke:#000;stroke-width:0.45">7</text></g>
<g transform="translate(816.9,851.7) scale(1.29,1)" font-size="28"><text x="0" y="0" style="stroke:#000;stroke-width:0.45">2</text><text x="15.6" y="0" style="stroke:#000;stroke-width:0.45">6</text></g>
<g transform="translate(816.9,886.4) scale(1.29,1)" font-size="28"><text x="0" y="0" style="stroke:#000;stroke-width:0.45">2</text><text x="15.6" y="0" style="stroke:#000;stroke-width:0.45">8</text></g>
<g transform="translate(1088.9,633) scale(1.29,1)" font-size="28"><text x="0" y="0" style="stroke:#000;stroke-width:0.45">2</text><text x="15.6" y="0" style="stroke:#000;stroke-width:0.45">0</text></g>
<g transform="translate(1088.9,674) scale(1.29,1)" font-size="28"><text x="0" y="0" style="stroke:#000;stroke-width:0.45">2</text><text x="15.6" y="0" style="stroke:#000;stroke-width:0.45">3</text></g>
<g transform="translate(1088.9,712) scale(1.29,1)" font-size="28"><text x="0" y="0" style="stroke:#000;stroke-width:0.45">2</text><text x="15.6" y="0" style="stroke:#000;stroke-width:0.45">4</text></g>
<g transform="translate(1088.9,750) scale(1.29,1)" font-size="28"><text x="0" y="0" style="stroke:#000;stroke-width:0.45">2</text><text x="15.6" y="0" style="stroke:#000;stroke-width:0.45">5</text></g>
<g transform="translate(1088.9,787) scale(1.29,1)" font-size="28"><text x="0" y="0" style="stroke:#000;stroke-width:0.45">2</text><text x="15.6" y="0" style="stroke:#000;stroke-width:0.45">7</text></g>
<g transform="translate(1088.9,822) scale(1.29,1)" font-size="28"><text x="0" y="0" style="stroke:#000;stroke-width:0.45">2</text><text x="15.6" y="0" style="stroke:#000;stroke-width:0.45">6</text></g>
<g transform="translate(1088.9,858.5) scale(1.29,1)" font-size="28"><text x="0" y="0" style="stroke:#000;stroke-width:0.45">2</text><text x="15.6" y="0" style="stroke:#000;stroke-width:0.45">8</text></g>
<g transform="translate(1088.9,894) scale(1.29,1)" font-size="28"><text x="0" y="0" style="stroke:#000;stroke-width:0.45">2</text><path d="M23.9,0 L23.9,-14.1 L18.5,-14.1 L18.5,-15.8 Q23.1,-16 24.7,-20 L26.4,-20 L26.4,0 Z" fill="#000" stroke="#000" stroke-width="0.45"/></g>
<g transform="translate(1088.9,934.6) scale(1.29,1)" font-size="28"><text x="0" y="0" style="stroke:#000;stroke-width:0.45">5</text><text x="15.6" y="0" style="stroke:#000;stroke-width:0.45">8</text></g>
<g transform="translate(1088.9,970) scale(1.29,1)" font-size="28"><text x="0" y="0" style="stroke:#000;stroke-width:0.45">5</text><text x="15.6" y="0" style="stroke:#000;stroke-width:0.45">9</text></g>
<g transform="translate(688.5,695.9) scale(1.29,1)" font-size="28"><text x="0" y="0" style="stroke:#000;stroke-width:0.45">3</text><text x="15.6" y="0" style="stroke:#000;stroke-width:0.45">2</text></g>
<g transform="translate(610,742) scale(1.29,1)" font-size="28"><text x="0" y="0" style="stroke:#000;stroke-width:0.45">3</text><text x="15.6" y="0" style="stroke:#000;stroke-width:0.45">3</text></g>
<g transform="translate(655.2,762.4) scale(1.29,1)" font-size="28"><text x="0" y="0" style="stroke:#000;stroke-width:0.45">6</text><path d="M23.9,0 L23.9,-14.1 L18.5,-14.1 L18.5,-15.8 Q23.1,-16 24.7,-20 L26.4,-20 L26.4,0 Z" fill="#000" stroke="#000" stroke-width="0.45"/></g>
<g transform="translate(740.9,813) scale(1.29,1)" font-size="28"><text x="0" y="0" style="stroke:#000;stroke-width:0.45">6</text><text x="15.6" y="0" style="stroke:#000;stroke-width:0.45">2</text></g>
<g transform="translate(709.7,940) scale(1.29,1)" font-size="28"><text x="0" y="0" style="stroke:#000;stroke-width:0.45">3</text><text x="15.6" y="0" style="stroke:#000;stroke-width:0.45">0</text></g>
<g transform="translate(750.9,958.5) scale(1.29,1)" font-size="28"><text x="0" y="0" style="stroke:#000;stroke-width:0.45">3</text><path d="M23.9,0 L23.9,-14.1 L18.5,-14.1 L18.5,-15.8 Q23.1,-16 24.7,-20 L26.4,-20 L26.4,0 Z" fill="#000" stroke="#000" stroke-width="0.45"/></g>
<g transform="translate(344.9,809.4) scale(1.29,1)" font-size="28"><text x="0" y="0" style="stroke:#000;stroke-width:0.45">3</text><text x="15.6" y="0" style="stroke:#000;stroke-width:0.45">4</text></g>
<g transform="translate(537.9,828.4) scale(1.29,1)" font-size="28"><text x="0" y="0" style="stroke:#000;stroke-width:0.45">6</text><text x="15.6" y="0" style="stroke:#000;stroke-width:0.45">4</text></g>
<g transform="translate(475.3,862) scale(1.29,1)" font-size="28"><text x="0" y="0" style="stroke:#000;stroke-width:0.45">4</text><text x="15.6" y="0" style="stroke:#000;stroke-width:0.45">3</text></g>
<g transform="translate(421.7,889) scale(1.29,1)" font-size="28"><text x="0" y="0" style="stroke:#000;stroke-width:0.45">4</text><text x="15.6" y="0" style="stroke:#000;stroke-width:0.45">2</text></g>
<g transform="translate(375.9,914.6) scale(1.29,1)" font-size="28"><text x="0" y="0" style="stroke:#000;stroke-width:0.45">4</text><text x="15.6" y="0" style="stroke:#000;stroke-width:0.45">4</text></g>
<g transform="translate(312.7,951.4) scale(1.29,1)" font-size="28"><text x="0" y="0" style="stroke:#000;stroke-width:0.45">3</text><text x="15.6" y="0" style="stroke:#000;stroke-width:0.45">8</text></g>
<g transform="translate(255.3,985) scale(1.29,1)" font-size="28"><text x="0" y="0" style="stroke:#000;stroke-width:0.45">3</text><text x="15.6" y="0" style="stroke:#000;stroke-width:0.45">9</text></g>
<g transform="translate(477.8,1022.4) scale(1.29,1)" font-size="28"><text x="0" y="0" style="stroke:#000;stroke-width:0.45">4</text><path d="M23.9,0 L23.9,-14.1 L18.5,-14.1 L18.5,-15.8 Q23.1,-16 24.7,-20 L26.4,-20 L26.4,0 Z" fill="#000" stroke="#000" stroke-width="0.45"/></g>
<g transform="translate(437.4,1054) scale(1.29,1)" font-size="28"><text x="0" y="0" style="stroke:#000;stroke-width:0.45">3</text><text x="15.6" y="0" style="stroke:#000;stroke-width:0.45">7</text></g>
<g transform="translate(391.3,1079.4) scale(1.29,1)" font-size="28"><text x="0" y="0" style="stroke:#000;stroke-width:0.45">6</text><text x="15.6" y="0" style="stroke:#000;stroke-width:0.45">3</text></g>
<g transform="translate(344.2,1106.8) scale(1.29,1)" font-size="28"><text x="0" y="0" style="stroke:#000;stroke-width:0.45">4</text><text x="15.6" y="0" style="stroke:#000;stroke-width:0.45">0</text></g>
<g transform="translate(295.7,1141.5) scale(1.29,1)" font-size="28"><text x="0" y="0" style="stroke:#000;stroke-width:0.45">3</text><text x="15.6" y="0" style="stroke:#000;stroke-width:0.45">6</text></g>
<g transform="translate(243.2,1165.6) scale(1.29,1)" font-size="28"><text x="0" y="0" style="stroke:#000;stroke-width:0.45">3</text><text x="15.6" y="0" style="stroke:#000;stroke-width:0.45">5</text></g>
<g transform="translate(1291.8,1069.6) scale(1.29,1)" font-size="28"><text x="0" y="0" style="stroke:#000;stroke-width:0.45">3</text><text x="15.6" y="0" style="stroke:#000;stroke-width:0.45">2</text></g>
<g transform="translate(1190.3,1093) scale(1.29,1)" font-size="28"><text x="0" y="0" style="stroke:#000;stroke-width:0.45">6</text><text x="15.6" y="0" style="stroke:#000;stroke-width:0.45">2</text></g>
<g transform="translate(1294.4,1158) scale(1.29,1)" font-size="28"><text x="0" y="0" style="stroke:#000;stroke-width:0.45">6</text><path d="M23.9,0 L23.9,-14.1 L18.5,-14.1 L18.5,-15.8 Q23.1,-16 24.7,-20 L26.4,-20 L26.4,0 Z" fill="#000" stroke="#000" stroke-width="0.45"/></g>
<g transform="translate(1346.5,1187.7) scale(1.29,1)" font-size="28"><text x="0" y="0" style="stroke:#000;stroke-width:0.45">3</text><text x="15.6" y="0" style="stroke:#000;stroke-width:0.45">3</text></g>
<g transform="translate(934.6,1084.3) scale(1.29,1)" font-size="28"><text x="0" y="0" style="stroke:#000;stroke-width:0.45">6</text><text x="15.6" y="0" style="stroke:#000;stroke-width:0.45">5</text></g>
<g transform="translate(984.6,1114.8) scale(1.29,1)" font-size="28"><text x="0" y="0" style="stroke:#000;stroke-width:0.45">5</text><text x="15.6" y="0" style="stroke:#000;stroke-width:0.45">0</text></g>
<g transform="translate(1034.8,1145) scale(1.29,1)" font-size="28"><text x="0" y="0" style="stroke:#000;stroke-width:0.45">6</text><text x="15.6" y="0" style="stroke:#000;stroke-width:0.45">5</text></g>
<g transform="translate(1077.3,1172.3) scale(1.29,1)" font-size="28"><text x="0" y="0" style="stroke:#000;stroke-width:0.45">4</text><text x="15.6" y="0" style="stroke:#000;stroke-width:0.45">7</text></g>
<g transform="translate(1115.3,1201.4) scale(1.29,1)" font-size="28"><text x="0" y="0" style="stroke:#000;stroke-width:0.45">4</text><text x="15.6" y="0" style="stroke:#000;stroke-width:0.45">9</text></g>
<g transform="translate(1157.1,1225.3) scale(1.29,1)" font-size="28"><text x="0" y="0" style="stroke:#000;stroke-width:0.45">4</text><text x="15.6" y="0" style="stroke:#000;stroke-width:0.45">8</text></g>
<g transform="translate(1212.7,1248.6) scale(1.29,1)" font-size="28"><text x="0" y="0" style="stroke:#000;stroke-width:0.45">4</text><text x="15.6" y="0" style="stroke:#000;stroke-width:0.45">6</text></g>
<g transform="translate(988.6,1174) scale(1.29,1)" font-size="28"><text x="0" y="0" style="stroke:#000;stroke-width:0.45">5</text><text x="15.6" y="0" style="stroke:#000;stroke-width:0.45">3</text></g>
<g transform="translate(987.5,1220.2) scale(1.29,1)" font-size="28"><text x="0" y="0" style="stroke:#000;stroke-width:0.45">5</text><text x="15.6" y="0" style="stroke:#000;stroke-width:0.45">5</text></g>
<g transform="translate(1081.3,1234.9) scale(1.29,1)" font-size="28"><text x="0" y="0" style="stroke:#000;stroke-width:0.45">5</text><path d="M23.9,0 L23.9,-14.1 L18.5,-14.1 L18.5,-15.8 Q23.1,-16 24.7,-20 L26.4,-20 L26.4,0 Z" fill="#000" stroke="#000" stroke-width="0.45"/></g>
<g transform="translate(980.3,1290) scale(1.29,1)" font-size="28"><text x="0" y="0" style="stroke:#000;stroke-width:0.45">6</text><text x="15.6" y="0" style="stroke:#000;stroke-width:0.45">7</text></g>
<g transform="translate(788.9,1091) scale(1.29,1)" font-size="28"><text x="0" y="0" style="stroke:#000;stroke-width:0.45">2</text><text x="15.6" y="0" style="stroke:#000;stroke-width:0.45">9</text></g>
<g transform="translate(761,1164.6) scale(1.29,1)" font-size="28"><text x="0" y="0" style="stroke:#000;stroke-width:0.45">5</text><text x="15.6" y="0" style="stroke:#000;stroke-width:0.45">4</text></g>
<g transform="translate(762.8,1212.8) scale(1.29,1)" font-size="28"><text x="0" y="0" style="stroke:#000;stroke-width:0.45">5</text><text x="15.6" y="0" style="stroke:#000;stroke-width:0.45">2</text></g>
<g transform="translate(762.8,1255.4) scale(1.29,1)" font-size="28"><text x="0" y="0" style="stroke:#000;stroke-width:0.45">6</text><text x="15.6" y="0" style="stroke:#000;stroke-width:0.45">6</text></g>
<g transform="translate(979,1342) scale(1.29,1)" font-size="28"><text x="0" y="0" style="stroke:#000;stroke-width:0.45">5</text><text x="15.6" y="0" style="stroke:#000;stroke-width:0.45">7</text></g>
<g transform="translate(701.1,980.8) scale(1.29,1)" font-size="28"><text x="0" y="0" style="stroke:#000;stroke-width:0.45">5</text><text x="15.6" y="0" style="stroke:#000;stroke-width:0.45">6</text></g>
<g transform="translate(695.1,1102.5) scale(1.29,1)" font-size="28"><text x="0" y="0" style="stroke:#000;stroke-width:0.45">5</text><text x="15.6" y="0" style="stroke:#000;stroke-width:0.45">6</text></g>
<g transform="translate(569.5,1364.2) scale(1.29,1)" font-size="28"><path d="M8.4,0 L8.4,-14.1 L2.9,-14.1 L2.9,-15.8 Q7.6,-16 9.1,-20 L10.8,-20 L10.8,0 Z" fill="#000" stroke="#000" stroke-width="0.45"/><text x="15.6" y="0" style="stroke:#000;stroke-width:0.45">0</text></g>
<g transform="translate(632.9,1390) scale(1.29,1)" font-size="28"><text x="0" y="0" style="stroke:#000;stroke-width:0.45">9</text></g>
<g transform="translate(677.6,1416) scale(1.29,1)" font-size="28"><text x="0" y="0" style="stroke:#000;stroke-width:0.45">8</text></g>
<g transform="translate(706.5,1438) scale(1.29,1)" font-size="28"><path d="M8.4,0 L8.4,-14.1 L2.9,-14.1 L2.9,-15.8 Q7.6,-16 9.1,-20 L10.8,-20 L10.8,0 Z" fill="#000" stroke="#000" stroke-width="0.45"/><path d="M23.9,0 L23.9,-14.1 L18.5,-14.1 L18.5,-15.8 Q23.1,-16 24.7,-20 L26.4,-20 L26.4,0 Z" fill="#000" stroke="#000" stroke-width="0.45"/></g>
<g transform="translate(734.7,1532.8) scale(1.29,1)" font-size="28"><path d="M8.4,0 L8.4,-14.1 L2.9,-14.1 L2.9,-15.8 Q7.6,-16 9.1,-20 L10.8,-20 L10.8,0 Z" fill="#000" stroke="#000" stroke-width="0.45"/><text x="15.6" y="0" style="stroke:#000;stroke-width:0.45">2</text></g>
<g transform="translate(788.9,1560.2) scale(1.29,1)" font-size="28"><path d="M8.4,0 L8.4,-14.1 L2.9,-14.1 L2.9,-15.8 Q7.6,-16 9.1,-20 L10.8,-20 L10.8,0 Z" fill="#000" stroke="#000" stroke-width="0.45"/><text x="15.6" y="0" style="stroke:#000;stroke-width:0.45">4</text></g>
<g transform="translate(739.8,1586.3) scale(1.29,1)" font-size="28"><path d="M8.4,0 L8.4,-14.1 L2.9,-14.1 L2.9,-15.8 Q7.6,-16 9.1,-20 L10.8,-20 L10.8,0 Z" fill="#000" stroke="#000" stroke-width="0.45"/><text x="15.6" y="0" style="stroke:#000;stroke-width:0.45">4</text></g>
<g transform="translate(699.9,1604.8) scale(1.29,1)" font-size="28"><path d="M8.4,0 L8.4,-14.1 L2.9,-14.1 L2.9,-15.8 Q7.6,-16 9.1,-20 L10.8,-20 L10.8,0 Z" fill="#000" stroke="#000" stroke-width="0.45"/><text x="15.6" y="0" style="stroke:#000;stroke-width:0.45">2</text></g>
<g transform="translate(991.9,1583) scale(1.29,1)" font-size="28"><path d="M8.4,0 L8.4,-14.1 L2.9,-14.1 L2.9,-15.8 Q7.6,-16 9.1,-20 L10.8,-20 L10.8,0 Z" fill="#000" stroke="#000" stroke-width="0.45"/><text x="15.6" y="0" style="stroke:#000;stroke-width:0.45">2</text></g>
<g transform="translate(995.4,1643.4) scale(1.29,1)" font-size="28"><path d="M8.4,0 L8.4,-14.1 L2.9,-14.1 L2.9,-15.8 Q7.6,-16 9.1,-20 L10.8,-20 L10.8,0 Z" fill="#000" stroke="#000" stroke-width="0.45"/><text x="15.6" y="0" style="stroke:#000;stroke-width:0.45">3</text></g>
<g transform="translate(995.4,1703.2) scale(1.29,1)" font-size="28"><path d="M8.4,0 L8.4,-14.1 L2.9,-14.1 L2.9,-15.8 Q7.6,-16 9.1,-20 L10.8,-20 L10.8,0 Z" fill="#000" stroke="#000" stroke-width="0.45"/><text x="15.6" y="0" style="stroke:#000;stroke-width:0.45">5</text></g>
<g transform="translate(994.9,1980.4) scale(1.29,1)" font-size="28"><path d="M8.4,0 L8.4,-14.1 L2.9,-14.1 L2.9,-15.8 Q7.6,-16 9.1,-20 L10.8,-20 L10.8,0 Z" fill="#000" stroke="#000" stroke-width="0.45"/><text x="15.6" y="0" style="stroke:#000;stroke-width:0.45">6</text></g>
<g transform="translate(994.9,2045.8) scale(1.29,1)" font-size="28"><path d="M8.4,0 L8.4,-14.1 L2.9,-14.1 L2.9,-15.8 Q7.6,-16 9.1,-20 L10.8,-20 L10.8,0 Z" fill="#000" stroke="#000" stroke-width="0.45"/><text x="15.6" y="0" style="stroke:#000;stroke-width:0.45">7</text></g>
<g transform="translate(994.9,2100) scale(1.29,1)" font-size="28"><path d="M8.4,0 L8.4,-14.1 L2.9,-14.1 L2.9,-15.8 Q7.6,-16 9.1,-20 L10.8,-20 L10.8,0 Z" fill="#000" stroke="#000" stroke-width="0.45"/><text x="15.6" y="0" style="stroke:#000;stroke-width:0.45">5</text></g>
<g transform="translate(667.9,2112.2) scale(1.29,1)" font-size="28"><path d="M8.4,0 L8.4,-14.1 L2.9,-14.1 L2.9,-15.8 Q7.6,-16 9.1,-20 L10.8,-20 L10.8,0 Z" fill="#000" stroke="#000" stroke-width="0.45"/><text x="15.6" y="0" style="stroke:#000;stroke-width:0.45">8</text></g>
<g transform="translate(560.4,1640.6) scale(1.29,1)" font-size="28"><text x="0" y="0" style="stroke:#000;stroke-width:0.45">6</text></g>
<g transform="translate(1148,1816.5) scale(1.29,1)" font-size="28"><text x="0" y="0" style="stroke:#000;stroke-width:0.45">7</text></g>
<g transform="translate(1480.9,1278.4) scale(1.29,1)" font-size="28"><path d="M8.4,0 L8.4,-14.1 L2.9,-14.1 L2.9,-15.8 Q7.6,-16 9.1,-20 L10.8,-20 L10.8,0 Z" fill="#000" stroke="#000" stroke-width="0.45"/></g>
<g style="mix-blend-mode:multiply" transform="translate(23,787.7) rotate(32.00) scale(1.160,1)" font-size="148" font-weight="bold">
<text x="-2.6" y="0" style="fill:#e5e5e5;stroke:#e5e5e5;stroke-width:3.2">F</text>
<text x="87" y="0" style="fill:#e5e5e5;stroke:#e5e5e5;stroke-width:3.2">l</text>
<text x="129.8" y="0" style="fill:#e5e5e5;stroke:#e5e5e5;stroke-width:3.2">o</text>
<text x="219.8" y="0" style="fill:#e5e5e5;stroke:#e5e5e5;stroke-width:3.2">o</text>
<text x="310.6" y="0" style="fill:#e5e5e5;stroke:#e5e5e5;stroke-width:3.2">d</text>
<text x="446.9" y="0" style="fill:#e5e5e5;stroke:#e5e5e5;stroke-width:3.2">M</text>
<text x="573.3" y="0" style="fill:#e5e5e5;stroke:#e5e5e5;stroke-width:3.2">a</text>
<text x="662" y="0" style="fill:#e5e5e5;stroke:#e5e5e5;stroke-width:3.2">r</text>
<text x="725.1" y="0" style="fill:#e5e5e5;stroke:#e5e5e5;stroke-width:3.2">i</text>
<text x="769.6" y="0" style="fill:#e5e5e5;stroke:#e5e5e5;stroke-width:3.2">n</text>
<text x="863.8" y="0" style="fill:#e5e5e5;stroke:#e5e5e5;stroke-width:3.2">e</text>
<text x="990.4" y="0" style="fill:#e5e5e5;stroke:#e5e5e5;stroke-width:3.2">S</text>
<text x="1088.6" y="0" style="fill:#e5e5e5;stroke:#e5e5e5;stroke-width:3.2">e</text>
<text x="1177.1" y="0" style="fill:#e5e5e5;stroke:#e5e5e5;stroke-width:3.2">r</text>
<text x="1239.8" y="0" style="fill:#e5e5e5;stroke:#e5e5e5;stroke-width:3.2">v</text>
<text x="1325.4" y="0" style="fill:#e5e5e5;stroke:#e5e5e5;stroke-width:3.2">i</text>
<text x="1365.8" y="0" style="fill:#e5e5e5;stroke:#e5e5e5;stroke-width:3.2">c</text>
<text x="1447.8" y="0" style="fill:#e5e5e5;stroke:#e5e5e5;stroke-width:3.2">e</text>
<text x="1530.2" y="0" style="fill:#e5e5e5;stroke:#e5e5e5;stroke-width:3.2">s</text>
</g>
</svg></body></html>
